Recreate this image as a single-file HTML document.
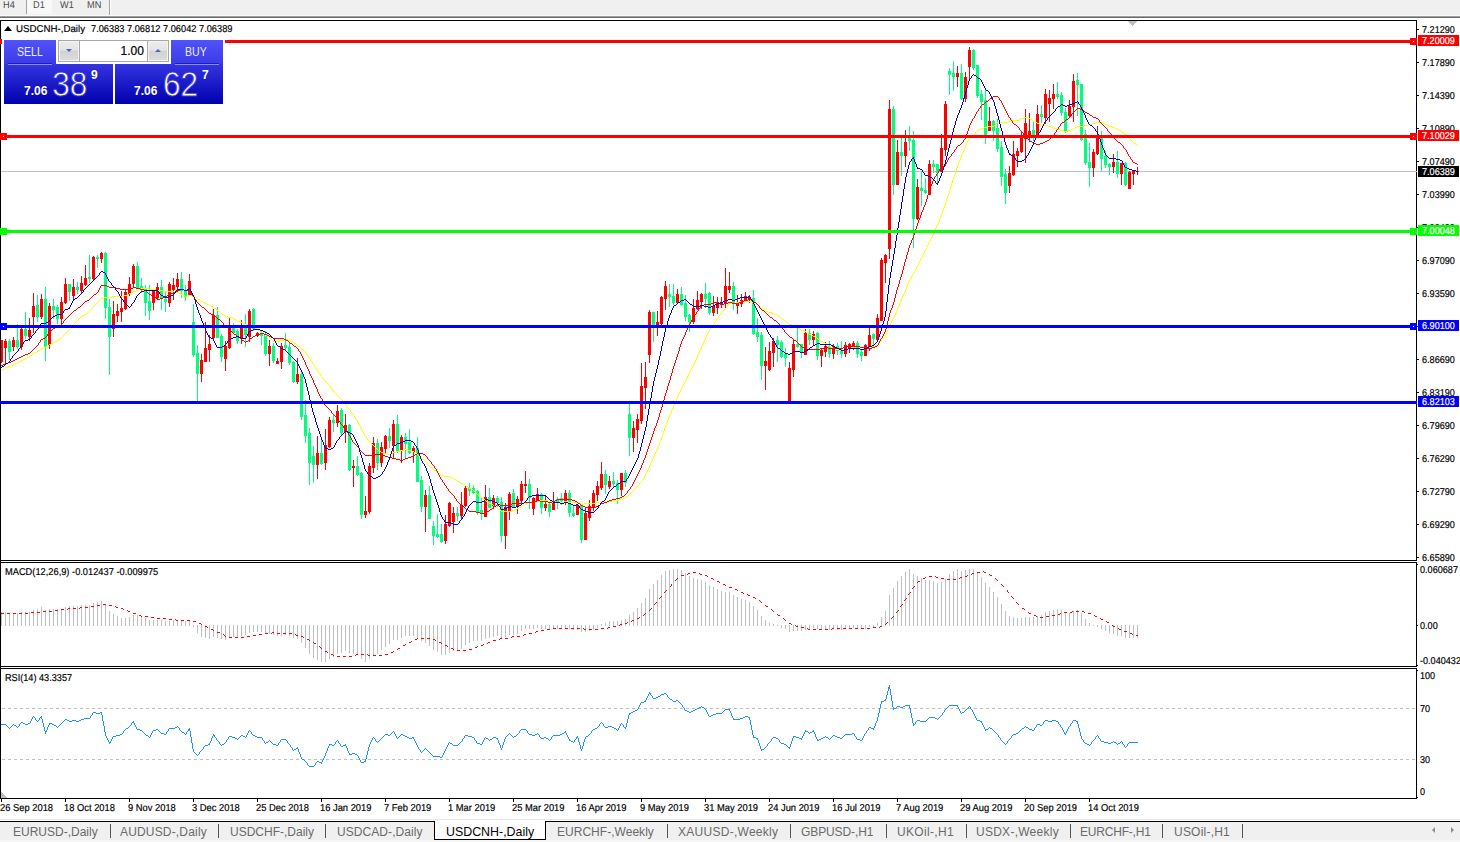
<!DOCTYPE html>
<html><head><meta charset="utf-8"><title>USDCNH-,Daily</title>
<style>
html,body{margin:0;padding:0;background:#fff;}
body{width:1460px;height:842px;position:relative;overflow:hidden;font-family:"Liberation Sans", sans-serif;}
.t{position:absolute;white-space:nowrap;font-family:"Liberation Sans", sans-serif;}
.ax,.dt,.ttl{-webkit-text-stroke:0.18px currentColor;}
.big{transform-origin:0 0;transform:scaleX(0.89);}
.ax{transform-origin:0 0;transform:scaleX(0.91) rotate(0.03deg);}
.tb{transform-origin:0 0;transform:scaleX(0.92) rotate(0.03deg);}
.dt{transform-origin:0 0;transform:scaleX(0.935) rotate(0.03deg);}
.ttl{transform-origin:0 0;transform:scaleX(0.945) rotate(0.03deg);}
</style></head><body>
<svg width="1460" height="842" viewBox="0 0 1460 842" shape-rendering="crispEdges" style="position:absolute;left:0;top:0"><rect x="0" y="20" width="1417" height="1" fill="#000"/>
<rect x="1416" y="20" width="1" height="779" fill="#000"/>
<rect x="0" y="560" width="1417" height="1" fill="#000"/>
<rect x="0" y="561" width="1417" height="1" fill="#fff"/>
<rect x="0" y="562" width="1417" height="1" fill="#000"/>
<rect x="0" y="666" width="1417" height="1" fill="#000"/>
<rect x="0" y="667" width="1417" height="1" fill="#fff"/>
<rect x="0" y="668" width="1417" height="1" fill="#000"/>
<rect x="0" y="798" width="1417" height="1" fill="#000"/>
<rect x="1" y="171" width="1416" height="1" fill="#c0c0c0"/>
<line x1="2" y1="708.5" x2="1416" y2="708.5" stroke="#c0c0c0" stroke-dasharray="3 3"/>
<line x1="2" y1="759.5" x2="1416" y2="759.5" stroke="#c0c0c0" stroke-dasharray="3 3"/>
<polygon points="1127,21 1137,21 1132,26" fill="#c0c0c0"/>
<polygon points="1,792 1,798 7,798" fill="#c0c0c0"/>
<g><rect x="1" y="340" width="1" height="23" fill="#ff0000"/><rect x="0" y="340" width="3" height="22" fill="#ff0000"/><rect x="5" y="339" width="1" height="25" fill="#ff0000"/><rect x="4" y="341" width="3" height="7" fill="#ff0000"/><rect x="9" y="339" width="1" height="21" fill="#00ff7f"/><rect x="8" y="341" width="3" height="11" fill="#00ff7f"/><rect x="13" y="337" width="1" height="14" fill="#ff0000"/><rect x="12" y="340" width="3" height="7" fill="#ff0000"/><rect x="17" y="324" width="1" height="25" fill="#00ff7f"/><rect x="16" y="340" width="3" height="7" fill="#00ff7f"/><rect x="21" y="328" width="1" height="22" fill="#ff0000"/><rect x="20" y="329" width="3" height="18" fill="#ff0000"/><rect x="25" y="312" width="1" height="27" fill="#00ff7f"/><rect x="24" y="329" width="3" height="7" fill="#00ff7f"/><rect x="29" y="318" width="1" height="23" fill="#ff0000"/><rect x="28" y="330" width="3" height="7" fill="#ff0000"/><rect x="33" y="293" width="1" height="40" fill="#ff0000"/><rect x="32" y="306" width="3" height="11" fill="#ff0000"/><rect x="37" y="295" width="1" height="27" fill="#00ff7f"/><rect x="36" y="305" width="3" height="12" fill="#00ff7f"/><rect x="41" y="294" width="1" height="25" fill="#ff0000"/><rect x="40" y="299" width="3" height="18" fill="#ff0000"/><rect x="45" y="287" width="1" height="74" fill="#00ff7f"/><rect x="44" y="299" width="3" height="48" fill="#00ff7f"/><rect x="49" y="303" width="1" height="46" fill="#ff0000"/><rect x="48" y="306" width="3" height="39" fill="#ff0000"/><rect x="53" y="299" width="1" height="20" fill="#00ff7f"/><rect x="52" y="306" width="3" height="4" fill="#00ff7f"/><rect x="57" y="305" width="1" height="19" fill="#00ff7f"/><rect x="56" y="307" width="3" height="12" fill="#00ff7f"/><rect x="61" y="297" width="1" height="27" fill="#ff0000"/><rect x="60" y="302" width="3" height="17" fill="#ff0000"/><rect x="65" y="278" width="1" height="26" fill="#ff0000"/><rect x="64" y="284" width="3" height="19" fill="#ff0000"/><rect x="69" y="284" width="1" height="17" fill="#00ff7f"/><rect x="68" y="284" width="3" height="8" fill="#00ff7f"/><rect x="73" y="279" width="1" height="21" fill="#ff0000"/><rect x="72" y="287" width="3" height="9" fill="#ff0000"/><rect x="77" y="282" width="1" height="12" fill="#00ff7f"/><rect x="76" y="287" width="3" height="3" fill="#00ff7f"/><rect x="81" y="276" width="1" height="17" fill="#ff0000"/><rect x="80" y="283" width="3" height="8" fill="#ff0000"/><rect x="85" y="265" width="1" height="21" fill="#ff0000"/><rect x="84" y="278" width="3" height="7" fill="#ff0000"/><rect x="89" y="255" width="1" height="28" fill="#00ff7f"/><rect x="88" y="277" width="3" height="2" fill="#00ff7f"/><rect x="93" y="256" width="1" height="25" fill="#ff0000"/><rect x="92" y="257" width="3" height="22" fill="#ff0000"/><rect x="97" y="255" width="1" height="13" fill="#00ff7f"/><rect x="96" y="257" width="3" height="2" fill="#00ff7f"/><rect x="101" y="252" width="1" height="11" fill="#ff0000"/><rect x="100" y="253" width="3" height="6" fill="#ff0000"/><rect x="105" y="252" width="1" height="67" fill="#00ff7f"/><rect x="104" y="253" width="3" height="55" fill="#00ff7f"/><rect x="109" y="299" width="1" height="76" fill="#00ff7f"/><rect x="108" y="307" width="3" height="30" fill="#00ff7f"/><rect x="113" y="301" width="1" height="36" fill="#ff0000"/><rect x="112" y="314" width="3" height="15" fill="#ff0000"/><rect x="117" y="304" width="1" height="18" fill="#ff0000"/><rect x="116" y="311" width="3" height="5" fill="#ff0000"/><rect x="121" y="291" width="1" height="31" fill="#ff0000"/><rect x="120" y="308" width="3" height="4" fill="#ff0000"/><rect x="125" y="290" width="1" height="20" fill="#ff0000"/><rect x="124" y="292" width="3" height="17" fill="#ff0000"/><rect x="129" y="277" width="1" height="19" fill="#ff0000"/><rect x="128" y="284" width="3" height="10" fill="#ff0000"/><rect x="133" y="264" width="1" height="24" fill="#ff0000"/><rect x="132" y="266" width="3" height="18" fill="#ff0000"/><rect x="137" y="262" width="1" height="27" fill="#00ff7f"/><rect x="136" y="266" width="3" height="22" fill="#00ff7f"/><rect x="141" y="278" width="1" height="15" fill="#00ff7f"/><rect x="140" y="286" width="3" height="4" fill="#00ff7f"/><rect x="145" y="285" width="1" height="31" fill="#00ff7f"/><rect x="144" y="289" width="3" height="14" fill="#00ff7f"/><rect x="149" y="285" width="1" height="35" fill="#00ff7f"/><rect x="148" y="301" width="3" height="10" fill="#00ff7f"/><rect x="153" y="289" width="1" height="21" fill="#ff0000"/><rect x="152" y="291" width="3" height="12" fill="#ff0000"/><rect x="157" y="283" width="1" height="17" fill="#ff0000"/><rect x="156" y="287" width="3" height="11" fill="#ff0000"/><rect x="161" y="280" width="1" height="30" fill="#00ff7f"/><rect x="160" y="287" width="3" height="12" fill="#00ff7f"/><rect x="165" y="292" width="1" height="20" fill="#00ff7f"/><rect x="164" y="299" width="3" height="3" fill="#00ff7f"/><rect x="169" y="282" width="1" height="25" fill="#ff0000"/><rect x="168" y="284" width="3" height="19" fill="#ff0000"/><rect x="173" y="278" width="1" height="22" fill="#ff0000"/><rect x="172" y="285" width="3" height="5" fill="#ff0000"/><rect x="177" y="273" width="1" height="19" fill="#ff0000"/><rect x="176" y="279" width="3" height="8" fill="#ff0000"/><rect x="181" y="272" width="1" height="26" fill="#00ff7f"/><rect x="180" y="279" width="3" height="12" fill="#00ff7f"/><rect x="185" y="285" width="1" height="16" fill="#00ff7f"/><rect x="184" y="291" width="3" height="6" fill="#00ff7f"/><rect x="189" y="274" width="1" height="22" fill="#ff0000"/><rect x="188" y="281" width="3" height="15" fill="#ff0000"/><rect x="193" y="304" width="1" height="53" fill="#00ff7f"/><rect x="192" y="322" width="3" height="33" fill="#00ff7f"/><rect x="197" y="345" width="1" height="56" fill="#00ff7f"/><rect x="196" y="353" width="3" height="21" fill="#00ff7f"/><rect x="201" y="354" width="1" height="28" fill="#ff0000"/><rect x="200" y="360" width="3" height="14" fill="#ff0000"/><rect x="205" y="322" width="1" height="40" fill="#ff0000"/><rect x="204" y="348" width="3" height="14" fill="#ff0000"/><rect x="209" y="335" width="1" height="27" fill="#ff0000"/><rect x="208" y="344" width="3" height="6" fill="#ff0000"/><rect x="213" y="309" width="1" height="31" fill="#ff0000"/><rect x="212" y="315" width="3" height="23" fill="#ff0000"/><rect x="217" y="307" width="1" height="31" fill="#00ff7f"/><rect x="216" y="315" width="3" height="23" fill="#00ff7f"/><rect x="221" y="334" width="1" height="28" fill="#00ff7f"/><rect x="220" y="336" width="3" height="21" fill="#00ff7f"/><rect x="225" y="341" width="1" height="30" fill="#ff0000"/><rect x="224" y="346" width="3" height="13" fill="#ff0000"/><rect x="229" y="318" width="1" height="31" fill="#ff0000"/><rect x="228" y="327" width="3" height="21" fill="#ff0000"/><rect x="233" y="323" width="1" height="11" fill="#00ff7f"/><rect x="232" y="327" width="3" height="6" fill="#00ff7f"/><rect x="237" y="329" width="1" height="15" fill="#00ff7f"/><rect x="236" y="331" width="3" height="10" fill="#00ff7f"/><rect x="241" y="320" width="1" height="24" fill="#ff0000"/><rect x="240" y="327" width="3" height="12" fill="#ff0000"/><rect x="245" y="314" width="1" height="33" fill="#00ff7f"/><rect x="244" y="326" width="3" height="9" fill="#00ff7f"/><rect x="249" y="309" width="1" height="33" fill="#ff0000"/><rect x="248" y="311" width="3" height="26" fill="#ff0000"/><rect x="253" y="308" width="1" height="23" fill="#00ff7f"/><rect x="252" y="309" width="3" height="20" fill="#00ff7f"/><rect x="257" y="332" width="1" height="5" fill="#ff0000"/><rect x="256" y="333" width="3" height="3" fill="#ff0000"/><rect x="261" y="330" width="1" height="15" fill="#00ff7f"/><rect x="260" y="333" width="3" height="3" fill="#00ff7f"/><rect x="265" y="331" width="1" height="25" fill="#00ff7f"/><rect x="264" y="334" width="3" height="20" fill="#00ff7f"/><rect x="269" y="340" width="1" height="26" fill="#ff0000"/><rect x="268" y="346" width="3" height="8" fill="#ff0000"/><rect x="273" y="343" width="1" height="20" fill="#00ff7f"/><rect x="272" y="346" width="3" height="15" fill="#00ff7f"/><rect x="277" y="358" width="1" height="6" fill="#ff0000"/><rect x="276" y="361" width="3" height="3" fill="#ff0000"/><rect x="281" y="343" width="1" height="26" fill="#ff0000"/><rect x="280" y="346" width="3" height="16" fill="#ff0000"/><rect x="285" y="333" width="1" height="17" fill="#00ff7f"/><rect x="284" y="345" width="3" height="3" fill="#00ff7f"/><rect x="289" y="343" width="1" height="22" fill="#00ff7f"/><rect x="288" y="347" width="3" height="16" fill="#00ff7f"/><rect x="293" y="361" width="1" height="22" fill="#00ff7f"/><rect x="292" y="362" width="3" height="20" fill="#00ff7f"/><rect x="297" y="358" width="1" height="26" fill="#ff0000"/><rect x="296" y="374" width="3" height="8" fill="#ff0000"/><rect x="301" y="372" width="1" height="48" fill="#00ff7f"/><rect x="300" y="374" width="3" height="43" fill="#00ff7f"/><rect x="305" y="400" width="1" height="43" fill="#00ff7f"/><rect x="304" y="415" width="3" height="21" fill="#00ff7f"/><rect x="309" y="428" width="1" height="57" fill="#00ff7f"/><rect x="308" y="433" width="3" height="30" fill="#00ff7f"/><rect x="313" y="446" width="1" height="37" fill="#00ff7f"/><rect x="312" y="456" width="3" height="9" fill="#00ff7f"/><rect x="317" y="436" width="1" height="43" fill="#ff0000"/><rect x="316" y="453" width="3" height="12" fill="#ff0000"/><rect x="321" y="439" width="1" height="26" fill="#00ff7f"/><rect x="320" y="453" width="3" height="11" fill="#00ff7f"/><rect x="325" y="429" width="1" height="41" fill="#ff0000"/><rect x="324" y="445" width="3" height="18" fill="#ff0000"/><rect x="329" y="417" width="1" height="31" fill="#ff0000"/><rect x="328" y="420" width="3" height="27" fill="#ff0000"/><rect x="333" y="415" width="1" height="17" fill="#00ff7f"/><rect x="332" y="420" width="3" height="3" fill="#00ff7f"/><rect x="337" y="405" width="1" height="22" fill="#ff0000"/><rect x="336" y="411" width="3" height="12" fill="#ff0000"/><rect x="341" y="408" width="1" height="27" fill="#00ff7f"/><rect x="340" y="410" width="3" height="23" fill="#00ff7f"/><rect x="345" y="414" width="1" height="29" fill="#ff0000"/><rect x="344" y="425" width="3" height="7" fill="#ff0000"/><rect x="349" y="424" width="1" height="47" fill="#00ff7f"/><rect x="348" y="425" width="3" height="45" fill="#00ff7f"/><rect x="353" y="460" width="1" height="27" fill="#ff0000"/><rect x="352" y="466" width="3" height="2" fill="#ff0000"/><rect x="357" y="456" width="1" height="20" fill="#00ff7f"/><rect x="356" y="466" width="3" height="9" fill="#00ff7f"/><rect x="361" y="472" width="1" height="47" fill="#00ff7f"/><rect x="360" y="473" width="3" height="42" fill="#00ff7f"/><rect x="365" y="496" width="1" height="22" fill="#ff0000"/><rect x="364" y="511" width="3" height="4" fill="#ff0000"/><rect x="369" y="463" width="1" height="51" fill="#ff0000"/><rect x="368" y="466" width="3" height="46" fill="#ff0000"/><rect x="373" y="437" width="1" height="36" fill="#ff0000"/><rect x="372" y="443" width="3" height="25" fill="#ff0000"/><rect x="377" y="439" width="1" height="31" fill="#00ff7f"/><rect x="376" y="443" width="3" height="20" fill="#00ff7f"/><rect x="381" y="442" width="1" height="25" fill="#ff0000"/><rect x="380" y="447" width="3" height="16" fill="#ff0000"/><rect x="385" y="435" width="1" height="19" fill="#ff0000"/><rect x="384" y="436" width="3" height="13" fill="#ff0000"/><rect x="389" y="428" width="1" height="20" fill="#00ff7f"/><rect x="388" y="436" width="3" height="5" fill="#00ff7f"/><rect x="393" y="420" width="1" height="39" fill="#ff0000"/><rect x="392" y="424" width="3" height="22" fill="#ff0000"/><rect x="397" y="415" width="1" height="38" fill="#00ff7f"/><rect x="396" y="424" width="3" height="28" fill="#00ff7f"/><rect x="401" y="435" width="1" height="28" fill="#ff0000"/><rect x="400" y="437" width="3" height="14" fill="#ff0000"/><rect x="405" y="433" width="1" height="26" fill="#00ff7f"/><rect x="404" y="437" width="3" height="7" fill="#00ff7f"/><rect x="409" y="429" width="1" height="25" fill="#00ff7f"/><rect x="408" y="442" width="3" height="11" fill="#00ff7f"/><rect x="413" y="446" width="1" height="17" fill="#ff0000"/><rect x="412" y="448" width="3" height="4" fill="#ff0000"/><rect x="417" y="437" width="1" height="45" fill="#00ff7f"/><rect x="416" y="448" width="3" height="34" fill="#00ff7f"/><rect x="421" y="476" width="1" height="36" fill="#00ff7f"/><rect x="420" y="480" width="3" height="27" fill="#00ff7f"/><rect x="425" y="490" width="1" height="42" fill="#ff0000"/><rect x="424" y="495" width="3" height="12" fill="#ff0000"/><rect x="429" y="486" width="1" height="33" fill="#00ff7f"/><rect x="428" y="495" width="3" height="24" fill="#00ff7f"/><rect x="433" y="521" width="1" height="24" fill="#00ff7f"/><rect x="432" y="526" width="3" height="10" fill="#00ff7f"/><rect x="437" y="514" width="1" height="24" fill="#00ff7f"/><rect x="436" y="534" width="3" height="3" fill="#00ff7f"/><rect x="441" y="524" width="1" height="19" fill="#00ff7f"/><rect x="440" y="534" width="3" height="8" fill="#00ff7f"/><rect x="445" y="515" width="1" height="29" fill="#ff0000"/><rect x="444" y="524" width="3" height="17" fill="#ff0000"/><rect x="449" y="502" width="1" height="25" fill="#ff0000"/><rect x="448" y="503" width="3" height="23" fill="#ff0000"/><rect x="453" y="507" width="1" height="26" fill="#ff0000"/><rect x="452" y="513" width="3" height="9" fill="#ff0000"/><rect x="457" y="507" width="1" height="14" fill="#00ff7f"/><rect x="456" y="513" width="3" height="3" fill="#00ff7f"/><rect x="461" y="492" width="1" height="27" fill="#ff0000"/><rect x="460" y="505" width="3" height="11" fill="#ff0000"/><rect x="465" y="486" width="1" height="21" fill="#ff0000"/><rect x="464" y="488" width="3" height="18" fill="#ff0000"/><rect x="469" y="483" width="1" height="13" fill="#00ff7f"/><rect x="468" y="488" width="3" height="3" fill="#00ff7f"/><rect x="473" y="485" width="1" height="9" fill="#00ff7f"/><rect x="472" y="488" width="3" height="5" fill="#00ff7f"/><rect x="477" y="490" width="1" height="25" fill="#00ff7f"/><rect x="476" y="491" width="3" height="21" fill="#00ff7f"/><rect x="481" y="498" width="1" height="22" fill="#00ff7f"/><rect x="480" y="510" width="3" height="4" fill="#00ff7f"/><rect x="485" y="485" width="1" height="32" fill="#ff0000"/><rect x="484" y="497" width="3" height="20" fill="#ff0000"/><rect x="489" y="488" width="1" height="20" fill="#00ff7f"/><rect x="488" y="497" width="3" height="11" fill="#00ff7f"/><rect x="493" y="495" width="1" height="14" fill="#ff0000"/><rect x="492" y="498" width="3" height="8" fill="#ff0000"/><rect x="497" y="496" width="1" height="11" fill="#00ff7f"/><rect x="496" y="498" width="3" height="5" fill="#00ff7f"/><rect x="501" y="497" width="1" height="45" fill="#00ff7f"/><rect x="500" y="502" width="3" height="34" fill="#00ff7f"/><rect x="505" y="503" width="1" height="46" fill="#ff0000"/><rect x="504" y="507" width="3" height="29" fill="#ff0000"/><rect x="509" y="492" width="1" height="28" fill="#ff0000"/><rect x="508" y="494" width="3" height="17" fill="#ff0000"/><rect x="513" y="489" width="1" height="19" fill="#00ff7f"/><rect x="512" y="493" width="3" height="14" fill="#00ff7f"/><rect x="517" y="496" width="1" height="18" fill="#ff0000"/><rect x="516" y="499" width="3" height="8" fill="#ff0000"/><rect x="521" y="481" width="1" height="24" fill="#ff0000"/><rect x="520" y="484" width="3" height="17" fill="#ff0000"/><rect x="525" y="471" width="1" height="22" fill="#ff0000"/><rect x="524" y="484" width="3" height="2" fill="#ff0000"/><rect x="529" y="479" width="1" height="30" fill="#00ff7f"/><rect x="528" y="484" width="3" height="14" fill="#00ff7f"/><rect x="533" y="497" width="1" height="18" fill="#ff0000"/><rect x="532" y="498" width="3" height="11" fill="#ff0000"/><rect x="537" y="488" width="1" height="14" fill="#ff0000"/><rect x="536" y="494" width="3" height="8" fill="#ff0000"/><rect x="541" y="493" width="1" height="21" fill="#00ff7f"/><rect x="540" y="494" width="3" height="14" fill="#00ff7f"/><rect x="545" y="496" width="1" height="15" fill="#ff0000"/><rect x="544" y="504" width="3" height="4" fill="#ff0000"/><rect x="549" y="503" width="1" height="14" fill="#00ff7f"/><rect x="548" y="504" width="3" height="8" fill="#00ff7f"/><rect x="553" y="492" width="1" height="18" fill="#ff0000"/><rect x="552" y="501" width="3" height="9" fill="#ff0000"/><rect x="557" y="497" width="1" height="12" fill="#00ff7f"/><rect x="556" y="499" width="3" height="3" fill="#00ff7f"/><rect x="561" y="493" width="1" height="12" fill="#00ff7f"/><rect x="560" y="498" width="3" height="3" fill="#00ff7f"/><rect x="565" y="490" width="1" height="15" fill="#ff0000"/><rect x="564" y="493" width="3" height="9" fill="#ff0000"/><rect x="569" y="490" width="1" height="27" fill="#00ff7f"/><rect x="568" y="493" width="3" height="20" fill="#00ff7f"/><rect x="573" y="506" width="1" height="11" fill="#00ff7f"/><rect x="572" y="513" width="3" height="3" fill="#00ff7f"/><rect x="577" y="504" width="1" height="11" fill="#ff0000"/><rect x="576" y="505" width="3" height="10" fill="#ff0000"/><rect x="581" y="504" width="1" height="39" fill="#00ff7f"/><rect x="580" y="505" width="3" height="35" fill="#00ff7f"/><rect x="585" y="508" width="1" height="32" fill="#ff0000"/><rect x="584" y="513" width="3" height="27" fill="#ff0000"/><rect x="589" y="500" width="1" height="21" fill="#ff0000"/><rect x="588" y="506" width="3" height="12" fill="#ff0000"/><rect x="593" y="490" width="1" height="21" fill="#ff0000"/><rect x="592" y="493" width="3" height="15" fill="#ff0000"/><rect x="597" y="481" width="1" height="20" fill="#ff0000"/><rect x="596" y="486" width="3" height="9" fill="#ff0000"/><rect x="601" y="462" width="1" height="28" fill="#ff0000"/><rect x="600" y="474" width="3" height="14" fill="#ff0000"/><rect x="605" y="470" width="1" height="24" fill="#00ff7f"/><rect x="604" y="474" width="3" height="11" fill="#00ff7f"/><rect x="609" y="476" width="1" height="13" fill="#ff0000"/><rect x="608" y="481" width="3" height="6" fill="#ff0000"/><rect x="613" y="472" width="1" height="16" fill="#00ff7f"/><rect x="612" y="481" width="3" height="3" fill="#00ff7f"/><rect x="617" y="480" width="1" height="24" fill="#00ff7f"/><rect x="616" y="483" width="3" height="7" fill="#00ff7f"/><rect x="621" y="473" width="1" height="23" fill="#ff0000"/><rect x="620" y="473" width="3" height="17" fill="#ff0000"/><rect x="625" y="470" width="1" height="17" fill="#00ff7f"/><rect x="624" y="473" width="3" height="10" fill="#00ff7f"/><rect x="629" y="401" width="1" height="55" fill="#00ff7f"/><rect x="628" y="414" width="3" height="24" fill="#00ff7f"/><rect x="633" y="421" width="1" height="31" fill="#ff0000"/><rect x="632" y="428" width="3" height="10" fill="#ff0000"/><rect x="637" y="414" width="1" height="29" fill="#ff0000"/><rect x="636" y="419" width="3" height="11" fill="#ff0000"/><rect x="641" y="363" width="1" height="61" fill="#ff0000"/><rect x="640" y="386" width="3" height="35" fill="#ff0000"/><rect x="645" y="362" width="1" height="47" fill="#ff0000"/><rect x="644" y="377" width="3" height="11" fill="#ff0000"/><rect x="649" y="310" width="1" height="53" fill="#ff0000"/><rect x="648" y="312" width="3" height="43" fill="#ff0000"/><rect x="653" y="312" width="1" height="30" fill="#00ff7f"/><rect x="652" y="312" width="3" height="13" fill="#00ff7f"/><rect x="657" y="311" width="1" height="25" fill="#ff0000"/><rect x="656" y="322" width="3" height="3" fill="#ff0000"/><rect x="661" y="296" width="1" height="29" fill="#ff0000"/><rect x="660" y="297" width="3" height="27" fill="#ff0000"/><rect x="665" y="281" width="1" height="29" fill="#ff0000"/><rect x="664" y="286" width="3" height="13" fill="#ff0000"/><rect x="669" y="284" width="1" height="23" fill="#00ff7f"/><rect x="668" y="294" width="3" height="3" fill="#00ff7f"/><rect x="673" y="284" width="1" height="21" fill="#00ff7f"/><rect x="672" y="296" width="3" height="7" fill="#00ff7f"/><rect x="677" y="289" width="1" height="15" fill="#ff0000"/><rect x="676" y="294" width="3" height="9" fill="#ff0000"/><rect x="681" y="287" width="1" height="19" fill="#00ff7f"/><rect x="680" y="294" width="3" height="11" fill="#00ff7f"/><rect x="685" y="295" width="1" height="26" fill="#00ff7f"/><rect x="684" y="303" width="3" height="14" fill="#00ff7f"/><rect x="689" y="314" width="1" height="18" fill="#00ff7f"/><rect x="688" y="315" width="3" height="7" fill="#00ff7f"/><rect x="693" y="299" width="1" height="25" fill="#ff0000"/><rect x="692" y="308" width="3" height="14" fill="#ff0000"/><rect x="697" y="291" width="1" height="19" fill="#ff0000"/><rect x="696" y="300" width="3" height="9" fill="#ff0000"/><rect x="701" y="293" width="1" height="16" fill="#ff0000"/><rect x="700" y="294" width="3" height="8" fill="#ff0000"/><rect x="705" y="283" width="1" height="25" fill="#00ff7f"/><rect x="704" y="294" width="3" height="5" fill="#00ff7f"/><rect x="709" y="292" width="1" height="23" fill="#00ff7f"/><rect x="708" y="293" width="3" height="20" fill="#00ff7f"/><rect x="713" y="296" width="1" height="20" fill="#ff0000"/><rect x="712" y="306" width="3" height="7" fill="#ff0000"/><rect x="717" y="297" width="1" height="17" fill="#ff0000"/><rect x="716" y="302" width="3" height="6" fill="#ff0000"/><rect x="721" y="297" width="1" height="11" fill="#ff0000"/><rect x="720" y="302" width="3" height="2" fill="#ff0000"/><rect x="725" y="268" width="1" height="40" fill="#ff0000"/><rect x="724" y="286" width="3" height="18" fill="#ff0000"/><rect x="729" y="272" width="1" height="21" fill="#ff0000"/><rect x="728" y="286" width="3" height="4" fill="#ff0000"/><rect x="733" y="282" width="1" height="28" fill="#00ff7f"/><rect x="732" y="286" width="3" height="18" fill="#00ff7f"/><rect x="737" y="295" width="1" height="19" fill="#ff0000"/><rect x="736" y="302" width="3" height="4" fill="#ff0000"/><rect x="741" y="294" width="1" height="13" fill="#ff0000"/><rect x="740" y="300" width="3" height="4" fill="#ff0000"/><rect x="745" y="292" width="1" height="10" fill="#ff0000"/><rect x="744" y="296" width="3" height="5" fill="#ff0000"/><rect x="749" y="295" width="1" height="8" fill="#ff0000"/><rect x="748" y="297" width="3" height="3" fill="#ff0000"/><rect x="753" y="290" width="1" height="45" fill="#00ff7f"/><rect x="752" y="298" width="3" height="36" fill="#00ff7f"/><rect x="757" y="318" width="1" height="24" fill="#00ff7f"/><rect x="756" y="332" width="3" height="5" fill="#00ff7f"/><rect x="761" y="332" width="1" height="48" fill="#00ff7f"/><rect x="760" y="335" width="3" height="31" fill="#00ff7f"/><rect x="765" y="347" width="1" height="43" fill="#ff0000"/><rect x="764" y="361" width="3" height="5" fill="#ff0000"/><rect x="769" y="342" width="1" height="29" fill="#ff0000"/><rect x="768" y="351" width="3" height="19" fill="#ff0000"/><rect x="773" y="338" width="1" height="29" fill="#ff0000"/><rect x="772" y="341" width="3" height="12" fill="#ff0000"/><rect x="777" y="336" width="1" height="26" fill="#00ff7f"/><rect x="776" y="340" width="3" height="5" fill="#00ff7f"/><rect x="781" y="340" width="1" height="18" fill="#00ff7f"/><rect x="780" y="342" width="3" height="15" fill="#00ff7f"/><rect x="785" y="348" width="1" height="19" fill="#00ff7f"/><rect x="784" y="354" width="3" height="4" fill="#00ff7f"/><rect x="789" y="362" width="1" height="42" fill="#ff0000"/><rect x="788" y="368" width="3" height="34" fill="#ff0000"/><rect x="793" y="340" width="1" height="37" fill="#ff0000"/><rect x="792" y="344" width="3" height="26" fill="#ff0000"/><rect x="797" y="328" width="1" height="20" fill="#00ff7f"/><rect x="796" y="344" width="3" height="3" fill="#00ff7f"/><rect x="801" y="344" width="1" height="14" fill="#00ff7f"/><rect x="800" y="344" width="3" height="9" fill="#00ff7f"/><rect x="805" y="329" width="1" height="26" fill="#ff0000"/><rect x="804" y="333" width="3" height="22" fill="#ff0000"/><rect x="809" y="329" width="1" height="16" fill="#00ff7f"/><rect x="808" y="333" width="3" height="7" fill="#00ff7f"/><rect x="813" y="331" width="1" height="15" fill="#ff0000"/><rect x="812" y="334" width="3" height="6" fill="#ff0000"/><rect x="817" y="332" width="1" height="28" fill="#00ff7f"/><rect x="816" y="333" width="3" height="23" fill="#00ff7f"/><rect x="821" y="349" width="1" height="18" fill="#ff0000"/><rect x="820" y="350" width="3" height="6" fill="#ff0000"/><rect x="825" y="342" width="1" height="15" fill="#ff0000"/><rect x="824" y="346" width="3" height="6" fill="#ff0000"/><rect x="829" y="341" width="1" height="17" fill="#00ff7f"/><rect x="828" y="346" width="3" height="8" fill="#00ff7f"/><rect x="833" y="344" width="1" height="15" fill="#ff0000"/><rect x="832" y="346" width="3" height="8" fill="#ff0000"/><rect x="837" y="343" width="1" height="12" fill="#00ff7f"/><rect x="836" y="346" width="3" height="5" fill="#00ff7f"/><rect x="841" y="341" width="1" height="17" fill="#00ff7f"/><rect x="840" y="350" width="3" height="4" fill="#00ff7f"/><rect x="845" y="342" width="1" height="15" fill="#ff0000"/><rect x="844" y="345" width="3" height="9" fill="#ff0000"/><rect x="849" y="343" width="1" height="10" fill="#ff0000"/><rect x="848" y="344" width="3" height="5" fill="#ff0000"/><rect x="853" y="341" width="1" height="9" fill="#ff0000"/><rect x="852" y="343" width="3" height="4" fill="#ff0000"/><rect x="857" y="341" width="1" height="17" fill="#00ff7f"/><rect x="856" y="343" width="3" height="11" fill="#00ff7f"/><rect x="861" y="350" width="1" height="11" fill="#00ff7f"/><rect x="860" y="352" width="3" height="4" fill="#00ff7f"/><rect x="865" y="344" width="1" height="12" fill="#ff0000"/><rect x="864" y="345" width="3" height="11" fill="#ff0000"/><rect x="869" y="328" width="1" height="23" fill="#ff0000"/><rect x="868" y="335" width="3" height="12" fill="#ff0000"/><rect x="873" y="333" width="1" height="12" fill="#00ff7f"/><rect x="872" y="334" width="3" height="5" fill="#00ff7f"/><rect x="877" y="314" width="1" height="27" fill="#ff0000"/><rect x="876" y="318" width="3" height="22" fill="#ff0000"/><rect x="881" y="258" width="1" height="63" fill="#ff0000"/><rect x="880" y="260" width="3" height="61" fill="#ff0000"/><rect x="885" y="254" width="1" height="29" fill="#ff0000"/><rect x="884" y="255" width="3" height="8" fill="#ff0000"/><rect x="889" y="100" width="1" height="159" fill="#ff0000"/><rect x="888" y="109" width="3" height="140" fill="#ff0000"/><rect x="893" y="106" width="1" height="89" fill="#00ff7f"/><rect x="892" y="109" width="3" height="76" fill="#00ff7f"/><rect x="897" y="140" width="1" height="45" fill="#ff0000"/><rect x="896" y="152" width="3" height="33" fill="#ff0000"/><rect x="901" y="138" width="1" height="38" fill="#00ff7f"/><rect x="900" y="152" width="3" height="4" fill="#00ff7f"/><rect x="905" y="130" width="1" height="37" fill="#ff0000"/><rect x="904" y="142" width="3" height="14" fill="#ff0000"/><rect x="909" y="126" width="1" height="25" fill="#00ff7f"/><rect x="908" y="138" width="3" height="3" fill="#00ff7f"/><rect x="913" y="131" width="1" height="117" fill="#00ff7f"/><rect x="912" y="140" width="3" height="79" fill="#00ff7f"/><rect x="917" y="179" width="1" height="41" fill="#ff0000"/><rect x="916" y="187" width="3" height="32" fill="#ff0000"/><rect x="921" y="171" width="1" height="35" fill="#00ff7f"/><rect x="920" y="188" width="3" height="3" fill="#00ff7f"/><rect x="925" y="178" width="1" height="16" fill="#00ff7f"/><rect x="924" y="190" width="3" height="3" fill="#00ff7f"/><rect x="929" y="160" width="1" height="35" fill="#ff0000"/><rect x="928" y="164" width="3" height="31" fill="#ff0000"/><rect x="933" y="160" width="1" height="13" fill="#00ff7f"/><rect x="932" y="164" width="3" height="3" fill="#00ff7f"/><rect x="937" y="164" width="1" height="19" fill="#00ff7f"/><rect x="936" y="164" width="3" height="9" fill="#00ff7f"/><rect x="941" y="134" width="1" height="38" fill="#ff0000"/><rect x="940" y="148" width="3" height="24" fill="#ff0000"/><rect x="945" y="101" width="1" height="55" fill="#ff0000"/><rect x="944" y="104" width="3" height="46" fill="#ff0000"/><rect x="949" y="68" width="1" height="27" fill="#00ff7f"/><rect x="948" y="71" width="3" height="4" fill="#00ff7f"/><rect x="953" y="61" width="1" height="30" fill="#00ff7f"/><rect x="952" y="73" width="3" height="4" fill="#00ff7f"/><rect x="957" y="66" width="1" height="21" fill="#ff0000"/><rect x="956" y="73" width="3" height="4" fill="#ff0000"/><rect x="961" y="64" width="1" height="36" fill="#00ff7f"/><rect x="960" y="73" width="3" height="26" fill="#00ff7f"/><rect x="965" y="72" width="1" height="30" fill="#ff0000"/><rect x="964" y="77" width="3" height="22" fill="#ff0000"/><rect x="969" y="47" width="1" height="32" fill="#ff0000"/><rect x="968" y="50" width="3" height="17" fill="#ff0000"/><rect x="973" y="49" width="1" height="21" fill="#00ff7f"/><rect x="972" y="50" width="3" height="18" fill="#00ff7f"/><rect x="977" y="65" width="1" height="33" fill="#00ff7f"/><rect x="976" y="65" width="3" height="31" fill="#00ff7f"/><rect x="981" y="90" width="1" height="30" fill="#00ff7f"/><rect x="980" y="94" width="3" height="8" fill="#00ff7f"/><rect x="985" y="90" width="1" height="54" fill="#00ff7f"/><rect x="984" y="100" width="3" height="36" fill="#00ff7f"/><rect x="989" y="107" width="1" height="24" fill="#ff0000"/><rect x="988" y="121" width="3" height="10" fill="#ff0000"/><rect x="993" y="120" width="1" height="21" fill="#00ff7f"/><rect x="992" y="121" width="3" height="10" fill="#00ff7f"/><rect x="997" y="119" width="1" height="33" fill="#00ff7f"/><rect x="996" y="128" width="3" height="21" fill="#00ff7f"/><rect x="1001" y="141" width="1" height="45" fill="#00ff7f"/><rect x="1000" y="147" width="3" height="30" fill="#00ff7f"/><rect x="1005" y="169" width="1" height="35" fill="#00ff7f"/><rect x="1004" y="174" width="3" height="19" fill="#00ff7f"/><rect x="1009" y="166" width="1" height="27" fill="#ff0000"/><rect x="1008" y="173" width="3" height="13" fill="#ff0000"/><rect x="1013" y="141" width="1" height="35" fill="#ff0000"/><rect x="1012" y="154" width="3" height="21" fill="#ff0000"/><rect x="1017" y="148" width="1" height="19" fill="#ff0000"/><rect x="1016" y="151" width="3" height="5" fill="#ff0000"/><rect x="1021" y="132" width="1" height="21" fill="#ff0000"/><rect x="1020" y="136" width="3" height="16" fill="#ff0000"/><rect x="1025" y="109" width="1" height="54" fill="#ff0000"/><rect x="1024" y="123" width="3" height="16" fill="#ff0000"/><rect x="1029" y="113" width="1" height="29" fill="#ff0000"/><rect x="1028" y="131" width="3" height="7" fill="#ff0000"/><rect x="1033" y="122" width="1" height="19" fill="#00ff7f"/><rect x="1032" y="130" width="3" height="5" fill="#00ff7f"/><rect x="1037" y="105" width="1" height="31" fill="#ff0000"/><rect x="1036" y="114" width="3" height="21" fill="#ff0000"/><rect x="1041" y="105" width="1" height="18" fill="#00ff7f"/><rect x="1040" y="114" width="3" height="3" fill="#00ff7f"/><rect x="1045" y="89" width="1" height="35" fill="#ff0000"/><rect x="1044" y="94" width="3" height="24" fill="#ff0000"/><rect x="1049" y="90" width="1" height="32" fill="#ff0000"/><rect x="1048" y="98" width="3" height="6" fill="#ff0000"/><rect x="1053" y="84" width="1" height="25" fill="#ff0000"/><rect x="1052" y="94" width="3" height="5" fill="#ff0000"/><rect x="1057" y="82" width="1" height="17" fill="#00ff7f"/><rect x="1056" y="94" width="3" height="3" fill="#00ff7f"/><rect x="1061" y="92" width="1" height="24" fill="#00ff7f"/><rect x="1060" y="95" width="3" height="18" fill="#00ff7f"/><rect x="1065" y="108" width="1" height="25" fill="#00ff7f"/><rect x="1064" y="112" width="3" height="20" fill="#00ff7f"/><rect x="1069" y="100" width="1" height="17" fill="#ff0000"/><rect x="1068" y="106" width="3" height="10" fill="#ff0000"/><rect x="1073" y="74" width="1" height="48" fill="#ff0000"/><rect x="1072" y="81" width="3" height="26" fill="#ff0000"/><rect x="1077" y="73" width="1" height="43" fill="#00ff7f"/><rect x="1076" y="80" width="3" height="5" fill="#00ff7f"/><rect x="1081" y="84" width="1" height="57" fill="#00ff7f"/><rect x="1080" y="84" width="3" height="56" fill="#00ff7f"/><rect x="1085" y="130" width="1" height="35" fill="#00ff7f"/><rect x="1084" y="134" width="3" height="29" fill="#00ff7f"/><rect x="1089" y="143" width="1" height="44" fill="#00ff7f"/><rect x="1088" y="162" width="3" height="6" fill="#00ff7f"/><rect x="1093" y="149" width="1" height="28" fill="#ff0000"/><rect x="1092" y="152" width="3" height="16" fill="#ff0000"/><rect x="1097" y="126" width="1" height="29" fill="#ff0000"/><rect x="1096" y="137" width="3" height="17" fill="#ff0000"/><rect x="1101" y="131" width="1" height="40" fill="#00ff7f"/><rect x="1100" y="138" width="3" height="21" fill="#00ff7f"/><rect x="1105" y="151" width="1" height="17" fill="#00ff7f"/><rect x="1104" y="156" width="3" height="9" fill="#00ff7f"/><rect x="1109" y="163" width="1" height="12" fill="#00ff7f"/><rect x="1108" y="164" width="3" height="3" fill="#00ff7f"/><rect x="1113" y="154" width="1" height="19" fill="#ff0000"/><rect x="1112" y="162" width="3" height="5" fill="#ff0000"/><rect x="1117" y="151" width="1" height="27" fill="#00ff7f"/><rect x="1116" y="162" width="3" height="12" fill="#00ff7f"/><rect x="1121" y="163" width="1" height="22" fill="#ff0000"/><rect x="1120" y="163" width="3" height="11" fill="#ff0000"/><rect x="1125" y="162" width="1" height="24" fill="#00ff7f"/><rect x="1124" y="163" width="3" height="22" fill="#00ff7f"/><rect x="1129" y="171" width="1" height="18" fill="#ff0000"/><rect x="1128" y="172" width="3" height="17" fill="#ff0000"/><rect x="1133" y="170" width="1" height="15" fill="#ff0000"/><rect x="1132" y="171" width="3" height="3" fill="#ff0000"/><rect x="1137" y="167" width="1" height="8" fill="#ff0000"/><rect x="1136" y="171" width="3" height="1" fill="#ff0000"/></g>
<path fill="#ffff00" d="M1 370h1v1h-1zM2 369h2v1h-2zM4 368h1v1h-1zM5 367h3v1h-3zM8 366h3v1h-3zM11 365h2v1h-2zM13 364h2v1h-2zM15 363h2v1h-2zM17 362h2v1h-2zM19 361h2v1h-2zM21 360h2v1h-2zM23 359h2v1h-2zM25 358h2v1h-2zM27 357h2v1h-2zM29 356h1v1h-1zM30 355h2v1h-2zM32 354h1v1h-1zM33 353h2v1h-2zM35 352h2v1h-2zM37 351h1v1h-1zM38 350h2v1h-2zM40 349h1v1h-1zM41 348h3v1h-3zM44 347h2v1h-2zM46 346h2v1h-2zM48 345h1v1h-1zM49 344h2v1h-2zM51 343h2v1h-2zM53 342h2v1h-2zM55 341h2v1h-2zM57 340h1v1h-1zM58 339h2v1h-2zM60 338h1v1h-1zM61 337h1v1h-1zM62 336h1v1h-1zM63 335h1v1h-1zM64 334h1v1h-1zM65 333h1v1h-1zM66 332h1v1h-1zM67 331h1v1h-1zM68 330h1v1h-1zM69 329h1v1h-1zM70 328h1v1h-1zM71 326h1v2h-1zM72 325h1v1h-1zM73 324h1v1h-1zM74 323h1v1h-1zM75 322h1v1h-1zM76 321h1v1h-1zM77 320h1v1h-1zM78 319h1v1h-1zM79 318h1v1h-1zM80 317h1v1h-1zM81 316h2v1h-2zM83 315h2v1h-2zM85 314h1v1h-1zM86 313h2v1h-2zM88 312h1v1h-1zM89 311h1v1h-1zM90 310h1v1h-1zM91 308h1v2h-1zM92 307h1v1h-1zM93 306h1v1h-1zM94 305h1v1h-1zM95 304h1v1h-1zM96 303h1v1h-1zM97 302h1v1h-1zM98 301h1v1h-1zM99 300h1v1h-1zM100 299h1v1h-1zM101 298h3v1h-3zM104 297h8v1h-8zM112 296h12v1h-12zM124 295h3v1h-3zM127 294h2v1h-2zM129 293h2v1h-2zM131 292h2v1h-2zM133 291h3v1h-3zM136 290h3v1h-3zM139 289h2v1h-2zM141 288h7v1h-7zM148 289h8v1h-8zM156 290h8v1h-8zM164 291h12v1h-12zM176 292h3v1h-3zM179 293h2v1h-2zM181 294h2v1h-2zM183 295h2v1h-2zM185 296h3v1h-3zM188 295h4v1h-4zM192 296h3v1h-3zM195 297h2v1h-2zM197 298h1v1h-1zM198 299h2v1h-2zM200 300h1v1h-1zM201 301h2v1h-2zM203 302h2v1h-2zM205 303h2v1h-2zM207 304h2v1h-2zM209 305h2v1h-2zM211 306h2v1h-2zM213 307h1v1h-1zM214 308h2v1h-2zM216 309h1v1h-1zM217 310h1v1h-1zM218 311h2v1h-2zM220 312h1v1h-1zM221 313h1v1h-1zM222 314h2v1h-2zM224 315h1v1h-1zM225 316h3v1h-3zM228 317h4v1h-4zM232 318h2v1h-2zM234 319h2v1h-2zM236 320h1v1h-1zM237 321h3v1h-3zM240 322h3v1h-3zM243 323h2v1h-2zM245 324h3v1h-3zM248 325h3v1h-3zM251 326h2v1h-2zM253 327h2v1h-2zM255 328h2v1h-2zM257 329h1v1h-1zM258 330h2v1h-2zM260 331h1v1h-1zM261 332h1v1h-1zM262 333h2v1h-2zM264 334h1v1h-1zM265 335h2v1h-2zM267 336h2v1h-2zM269 337h1v1h-1zM270 338h1v1h-1zM271 339h1v1h-1zM272 340h1v1h-1zM273 341h7v1h-7zM280 340h4v1h-4zM284 339h4v1h-4zM288 340h3v1h-3zM291 341h2v1h-2zM293 342h1v1h-1zM294 343h2v1h-2zM296 344h1v1h-1zM297 345h1v1h-1zM298 346h2v1h-2zM300 347h1v1h-1zM301 348h1v1h-1zM302 349h1v1h-1zM303 350h1v1h-1zM304 351h1v1h-1zM305 352h1v1h-1zM306 353h1v2h-1zM307 355h1v1h-1zM308 356h1v2h-1zM309 358h1v1h-1zM310 359h1v2h-1zM311 361h1v1h-1zM312 362h1v2h-1zM313 364h1v1h-1zM314 365h1v2h-1zM315 367h1v1h-1zM316 368h1v2h-1zM317 370h1v1h-1zM318 371h1v2h-1zM319 373h1v1h-1zM320 374h1v2h-1zM321 376h1v1h-1zM322 377h1v1h-1zM323 378h1v2h-1zM324 380h1v1h-1zM325 381h1v1h-1zM326 382h1v1h-1zM327 383h1v1h-1zM328 384h1v1h-1zM329 385h1v1h-1zM330 386h1v2h-1zM331 388h1v1h-1zM332 389h1v2h-1zM333 391h1v1h-1zM334 392h1v1h-1zM335 393h1v1h-1zM336 394h1v1h-1zM337 395h1v1h-1zM338 396h1v1h-1zM339 397h1v1h-1zM340 398h1v1h-1zM341 399h1v1h-1zM342 400h1v1h-1zM343 401h1v2h-1zM344 403h1v1h-1zM345 404h1v1h-1zM346 405h1v1h-1zM347 406h1v2h-1zM348 408h1v1h-1zM349 409h1v1h-1zM350 410h1v2h-1zM351 412h1v1h-1zM352 413h1v2h-1zM353 415h1v1h-1zM354 416h1v1h-1zM355 417h1v2h-1zM356 419h1v1h-1zM357 420h1v2h-1zM358 422h1v2h-1zM359 424h1v2h-1zM360 426h1v2h-1zM361 428h1v2h-1zM362 430h1v2h-1zM363 432h1v2h-1zM364 434h1v2h-1zM365 436h1v1h-1zM366 437h1v1h-1zM367 438h1v2h-1zM368 440h1v1h-1zM369 441h1v1h-1zM370 442h1v1h-1zM371 443h1v1h-1zM372 444h1v1h-1zM373 445h1v1h-1zM374 446h1v1h-1zM375 447h1v1h-1zM376 448h1v1h-1zM377 449h1v1h-1zM378 450h2v1h-2zM380 451h1v1h-1zM381 452h3v1h-3zM384 453h4v1h-4zM388 454h3v1h-3zM391 453h2v1h-2zM393 452h3v1h-3zM396 451h4v1h-4zM400 450h4v1h-4zM404 449h4v1h-4zM408 450h4v1h-4zM412 451h2v1h-2zM414 452h2v1h-2zM416 453h1v1h-1zM417 454h1v1h-1zM418 455h1v1h-1zM419 456h1v1h-1zM420 457h1v1h-1zM421 458h1v1h-1zM422 459h2v1h-2zM424 460h1v1h-1zM425 461h1v1h-1zM426 462h1v1h-1zM427 463h1v2h-1zM428 465h1v1h-1zM429 466h1v1h-1zM430 467h2v1h-2zM432 468h1v1h-1zM433 469h1v1h-1zM434 470h2v1h-2zM436 471h1v1h-1zM437 472h1v1h-1zM438 473h2v1h-2zM440 474h1v1h-1zM441 475h3v1h-3zM444 476h7v1h-7zM451 477h2v1h-2zM453 478h1v1h-1zM454 479h2v1h-2zM456 480h1v1h-1zM457 481h2v1h-2zM459 482h2v1h-2zM461 483h2v1h-2zM463 484h2v1h-2zM465 485h1v1h-1zM466 486h2v1h-2zM468 487h1v1h-1zM469 488h2v1h-2zM471 489h2v1h-2zM473 490h1v1h-1zM474 491h1v1h-1zM475 492h1v1h-1zM476 493h1v1h-1zM477 494h1v1h-1zM478 495h2v1h-2zM480 496h1v1h-1zM481 497h1v1h-1zM482 498h2v1h-2zM484 499h1v1h-1zM485 500h1v1h-1zM486 501h2v1h-2zM488 502h1v1h-1zM489 503h2v1h-2zM491 504h2v1h-2zM493 505h1v1h-1zM494 506h2v1h-2zM496 507h1v1h-1zM497 508h1v1h-1zM498 509h2v1h-2zM500 510h1v1h-1zM501 511h11v1h-11zM512 510h3v1h-3zM515 509h2v1h-2zM517 508h2v1h-2zM519 507h2v1h-2zM521 506h1v1h-1zM522 505h2v1h-2zM524 504h1v1h-1zM525 503h3v1h-3zM528 502h8v1h-8zM536 501h4v1h-4zM540 500h8v1h-8zM548 501h4v1h-4zM552 502h12v1h-12zM564 501h4v1h-4zM568 502h11v1h-11zM579 503h2v1h-2zM581 504h3v1h-3zM584 503h12v1h-12zM596 502h4v1h-4zM600 501h12v1h-12zM612 500h7v1h-7zM619 499h2v1h-2zM621 498h3v1h-3zM624 497h2v1h-2zM626 496h2v1h-2zM628 495h1v1h-1zM629 494h1v1h-1zM630 493h1v1h-1zM631 492h1v1h-1zM632 491h1v1h-1zM633 490h1v1h-1zM634 489h1v1h-1zM635 488h1v1h-1zM636 487h1v1h-1zM637 486h1v1h-1zM638 485h1v1h-1zM639 483h1v2h-1zM640 482h1v1h-1zM641 481h1v1h-1zM642 479h1v2h-1zM643 478h1v1h-1zM644 476h1v2h-1zM645 474h1v2h-1zM646 472h1v2h-1zM647 470h1v2h-1zM648 468h1v2h-1zM649 465h1v3h-1zM650 463h1v2h-1zM651 461h1v2h-1zM652 459h1v2h-1zM653 456h1v3h-1zM654 454h1v2h-1zM655 452h1v2h-1zM656 450h1v2h-1zM657 447h1v3h-1zM658 445h1v2h-1zM659 442h1v3h-1zM660 440h1v2h-1zM661 437h1v3h-1zM662 434h1v3h-1zM663 431h1v3h-1zM664 428h1v3h-1zM665 425h1v3h-1zM666 423h1v2h-1zM667 420h1v3h-1zM668 418h1v2h-1zM669 415h1v3h-1zM670 413h1v2h-1zM671 410h1v3h-1zM672 408h1v2h-1zM673 405h1v3h-1zM674 403h1v2h-1zM675 401h1v2h-1zM676 399h1v2h-1zM677 396h1v3h-1zM678 394h1v2h-1zM679 392h1v2h-1zM680 390h1v2h-1zM681 388h1v2h-1zM682 386h1v2h-1zM683 384h1v2h-1zM684 382h1v2h-1zM685 380h1v2h-1zM686 378h1v2h-1zM687 376h1v2h-1zM688 374h1v2h-1zM689 372h1v2h-1zM690 370h1v2h-1zM691 368h1v2h-1zM692 366h1v2h-1zM693 364h1v2h-1zM694 362h1v2h-1zM695 360h1v2h-1zM696 358h1v2h-1zM697 355h1v3h-1zM698 353h1v2h-1zM699 351h1v2h-1zM700 349h1v2h-1zM701 346h1v3h-1zM702 344h1v2h-1zM703 342h1v2h-1zM704 340h1v2h-1zM705 337h1v3h-1zM706 335h1v2h-1zM707 333h1v2h-1zM708 331h1v2h-1zM709 330h1v1h-1zM710 328h1v2h-1zM711 327h1v1h-1zM712 325h1v2h-1zM713 324h1v1h-1zM714 322h1v2h-1zM715 321h1v1h-1zM716 319h1v2h-1zM717 318h1v1h-1zM718 316h1v2h-1zM719 315h1v1h-1zM720 313h1v2h-1zM721 312h1v1h-1zM722 311h1v1h-1zM723 310h1v1h-1zM724 309h1v1h-1zM725 308h1v1h-1zM726 307h1v1h-1zM727 305h1v2h-1zM728 304h1v1h-1zM729 303h7v1h-7zM736 302h4v1h-4zM740 301h11v1h-11zM751 302h2v1h-2zM753 303h3v1h-3zM756 304h2v1h-2zM758 305h1v1h-1zM759 306h1v1h-1zM760 307h1v1h-1zM761 308h1v1h-1zM762 309h2v1h-2zM764 310h1v1h-1zM765 311h3v1h-3zM768 312h4v1h-4zM772 313h3v1h-3zM775 314h2v1h-2zM777 315h1v1h-1zM778 316h2v1h-2zM780 317h1v1h-1zM781 318h1v1h-1zM782 319h2v1h-2zM784 320h1v1h-1zM785 321h1v1h-1zM786 322h2v1h-2zM788 323h1v1h-1zM789 324h3v1h-3zM792 325h3v1h-3zM795 326h2v1h-2zM797 327h1v1h-1zM798 328h2v1h-2zM800 329h1v1h-1zM801 330h3v1h-3zM804 331h2v1h-2zM806 332h2v1h-2zM808 333h1v1h-1zM809 334h2v1h-2zM811 335h2v1h-2zM813 336h2v1h-2zM815 337h2v1h-2zM817 338h1v1h-1zM818 339h2v1h-2zM820 340h1v1h-1zM821 341h2v1h-2zM823 342h2v1h-2zM825 343h1v1h-1zM826 344h2v1h-2zM828 345h1v1h-1zM829 346h2v1h-2zM831 347h2v1h-2zM833 348h3v1h-3zM836 349h4v1h-4zM840 350h4v1h-4zM844 349h4v1h-4zM848 348h4v1h-4zM852 347h4v1h-4zM856 348h4v1h-4zM860 349h4v1h-4zM864 348h4v1h-4zM868 347h4v1h-4zM872 346h3v1h-3zM875 345h2v1h-2zM877 344h1v1h-1zM878 343h1v1h-1zM879 342h1v1h-1zM880 341h1v1h-1zM881 340h1v1h-1zM882 339h1v1h-1zM883 338h1v1h-1zM884 337h1v1h-1zM885 335h1v2h-1zM886 332h1v3h-1zM887 330h1v2h-1zM888 327h1v3h-1zM889 325h1v2h-1zM890 323h1v2h-1zM891 321h1v2h-1zM892 319h1v2h-1zM893 317h1v2h-1zM894 315h1v2h-1zM895 313h1v2h-1zM896 311h1v2h-1zM897 308h1v3h-1zM898 306h1v2h-1zM899 303h1v3h-1zM900 301h1v2h-1zM901 298h1v3h-1zM902 296h1v2h-1zM903 294h1v2h-1zM904 292h1v2h-1zM905 289h1v3h-1zM906 287h1v2h-1zM907 284h1v3h-1zM908 282h1v2h-1zM909 280h1v2h-1zM910 278h1v2h-1zM911 276h1v2h-1zM912 274h1v2h-1zM913 273h1v1h-1zM914 271h1v2h-1zM915 269h1v2h-1zM916 267h1v2h-1zM917 265h1v2h-1zM918 263h1v2h-1zM919 261h1v2h-1zM920 259h1v2h-1zM921 257h1v2h-1zM922 255h1v2h-1zM923 253h1v2h-1zM924 251h1v2h-1zM925 249h1v2h-1zM926 247h1v2h-1zM927 245h1v2h-1zM928 243h1v2h-1zM929 241h1v2h-1zM930 239h1v2h-1zM931 237h1v2h-1zM932 235h1v2h-1zM933 232h1v3h-1zM934 230h1v2h-1zM935 228h1v2h-1zM936 226h1v2h-1zM937 224h1v2h-1zM938 222h1v2h-1zM939 219h1v3h-1zM940 217h1v2h-1zM941 214h1v3h-1zM942 211h1v3h-1zM943 208h1v3h-1zM944 205h1v3h-1zM945 202h1v3h-1zM946 199h1v3h-1zM947 196h1v3h-1zM948 193h1v3h-1zM949 190h1v3h-1zM950 187h1v3h-1zM951 183h1v4h-1zM952 180h1v3h-1zM953 177h1v3h-1zM954 174h1v3h-1zM955 171h1v3h-1zM956 168h1v3h-1zM957 165h1v3h-1zM958 162h1v3h-1zM959 160h1v2h-1zM960 157h1v3h-1zM961 154h1v3h-1zM962 152h1v2h-1zM963 150h1v2h-1zM964 148h1v2h-1zM965 145h1v3h-1zM966 143h1v2h-1zM967 141h1v2h-1zM968 139h1v2h-1zM969 137h1v2h-1zM970 137h1v1h-1zM971 136h2v1h-2zM973 135h1v1h-1zM974 134h1v1h-1zM975 132h1v2h-1zM976 131h1v1h-1zM977 130h2v1h-2zM979 129h2v1h-2zM981 128h3v1h-3zM984 127h4v1h-4zM988 126h6v1h-6zM994 125h1v1h-1zM995 124h1v1h-1zM996 123h1v1h-1zM997 122h11v1h-11zM1008 121h4v1h-4zM1012 120h7v1h-7zM1019 119h2v1h-2zM1021 118h3v1h-3zM1024 117h4v1h-4zM1028 118h2v1h-2zM1030 119h2v1h-2zM1032 120h1v1h-1zM1033 121h2v1h-2zM1035 122h2v1h-2zM1037 123h2v1h-2zM1039 124h2v1h-2zM1041 125h7v1h-7zM1048 126h3v1h-3zM1051 127h2v1h-2zM1053 128h3v1h-3zM1056 129h4v1h-4zM1060 130h4v1h-4zM1064 131h4v1h-4zM1068 130h3v1h-3zM1071 129h2v1h-2zM1073 128h2v1h-2zM1075 127h2v1h-2zM1077 126h7v1h-7zM1084 125h4v1h-4zM1088 124h4v1h-4zM1092 123h4v1h-4zM1096 122h7v1h-7zM1103 123h2v1h-2zM1105 124h2v1h-2zM1107 125h2v1h-2zM1109 126h3v1h-3zM1112 127h3v1h-3zM1115 128h2v1h-2zM1117 129h2v1h-2zM1119 130h2v1h-2zM1121 131h1v1h-1zM1122 132h2v1h-2zM1124 133h1v1h-1zM1125 134h1v1h-1zM1126 135h1v1h-1zM1127 136h1v1h-1zM1128 137h1v1h-1zM1129 138h1v1h-1zM1130 139h1v1h-1zM1131 140h1v1h-1zM1132 141h1v1h-1zM1133 142h1v1h-1zM1134 143h2v1h-2zM1136 144h1v1h-1zM1137 145h1v1h-1z"/>
<path fill="#ff0000" d="M1 365h2v1h-2zM3 364h2v1h-2zM5 363h3v1h-3zM8 362h3v1h-3zM11 361h2v1h-2zM13 360h2v1h-2zM15 359h2v1h-2zM17 358h2v1h-2zM19 357h2v1h-2zM21 356h2v1h-2zM23 355h2v1h-2zM25 354h3v1h-3zM28 353h2v1h-2zM30 352h1v1h-1zM31 351h1v1h-1zM32 350h1v1h-1zM33 349h1v1h-1zM34 348h1v1h-1zM35 347h1v1h-1zM36 346h1v1h-1zM37 345h1v1h-1zM38 343h1v2h-1zM39 342h1v1h-1zM40 340h1v2h-1zM41 339h2v1h-2zM43 338h2v1h-2zM45 337h1v1h-1zM46 336h1v1h-1zM47 334h1v2h-1zM48 333h1v1h-1zM49 332h1v1h-1zM50 331h1v1h-1zM51 330h1v1h-1zM52 329h1v1h-1zM53 328h2v1h-2zM55 327h2v1h-2zM57 326h2v1h-2zM59 325h2v1h-2zM61 324h1v1h-1zM62 323h1v1h-1zM63 321h1v2h-1zM64 320h1v1h-1zM65 319h1v1h-1zM66 318h1v1h-1zM67 317h1v1h-1zM68 316h1v1h-1zM69 315h1v1h-1zM70 314h1v1h-1zM71 313h1v1h-1zM72 312h1v1h-1zM73 311h1v1h-1zM74 310h2v1h-2zM76 309h1v1h-1zM77 308h1v1h-1zM78 307h2v1h-2zM80 306h1v1h-1zM81 305h1v1h-1zM82 304h1v1h-1zM83 303h1v1h-1zM84 302h1v1h-1zM85 301h2v1h-2zM87 300h2v1h-2zM89 299h1v1h-1zM90 298h1v1h-1zM91 297h1v1h-1zM92 296h1v1h-1zM93 295h1v1h-1zM94 294h2v1h-2zM96 293h1v1h-1zM97 292h1v1h-1zM98 290h1v2h-1zM99 288h1v2h-1zM100 286h1v2h-1zM101 285h6v1h-6zM107 286h2v1h-2zM109 287h7v1h-7zM116 288h4v1h-4zM120 289h11v1h-11zM131 288h2v1h-2zM133 287h3v1h-3zM136 288h4v1h-4zM140 289h4v1h-4zM144 290h2v1h-2zM146 291h1v1h-1zM147 292h1v1h-1zM148 293h1v1h-1zM149 294h2v1h-2zM151 295h2v1h-2zM153 296h1v1h-1zM154 297h2v1h-2zM156 298h1v1h-1zM157 299h3v1h-3zM160 298h3v1h-3zM163 297h2v1h-2zM165 296h2v1h-2zM167 295h2v1h-2zM169 294h2v1h-2zM171 293h2v1h-2zM173 292h2v1h-2zM175 291h2v1h-2zM177 290h3v1h-3zM180 289h4v1h-4zM184 290h4v1h-4zM188 291h2v1h-2zM190 292h1v1h-1zM191 293h1v2h-1zM192 295h1v1h-1zM193 296h1v1h-1zM194 297h1v2h-1zM195 299h1v1h-1zM196 300h1v2h-1zM197 302h1v1h-1zM198 303h1v1h-1zM199 304h1v1h-1zM200 305h1v1h-1zM201 306h1v1h-1zM202 307h2v1h-2zM204 308h1v1h-1zM205 309h1v1h-1zM206 310h1v1h-1zM207 311h1v1h-1zM208 312h1v1h-1zM209 313h2v1h-2zM211 314h2v1h-2zM213 315h1v1h-1zM214 316h2v1h-2zM216 317h1v1h-1zM217 318h1v1h-1zM218 319h2v1h-2zM220 320h1v1h-1zM221 321h1v1h-1zM222 322h1v1h-1zM223 323h1v2h-1zM224 325h1v1h-1zM225 326h1v1h-1zM226 327h2v1h-2zM228 328h1v1h-1zM229 329h1v1h-1zM230 330h1v1h-1zM231 331h1v1h-1zM232 332h1v1h-1zM233 333h1v1h-1zM234 334h2v1h-2zM236 335h1v1h-1zM237 336h1v1h-1zM238 337h2v1h-2zM240 338h1v1h-1zM241 339h1v1h-1zM242 340h2v1h-2zM244 341h1v1h-1zM245 342h1v1h-1zM246 341h2v1h-2zM248 340h1v1h-1zM249 339h1v1h-1zM250 338h2v1h-2zM252 337h1v1h-1zM253 336h2v1h-2zM255 335h2v1h-2zM257 334h3v1h-3zM260 333h4v1h-4zM264 334h3v1h-3zM267 335h2v1h-2zM269 336h2v1h-2zM271 337h2v1h-2zM273 338h11v1h-11zM284 339h2v1h-2zM286 340h2v1h-2zM288 341h1v1h-1zM289 342h1v1h-1zM290 343h2v1h-2zM292 344h1v1h-1zM293 345h1v1h-1zM294 346h2v1h-2zM296 347h1v1h-1zM297 348h1v1h-1zM298 349h1v2h-1zM299 351h1v1h-1zM300 352h1v2h-1zM301 354h1v2h-1zM302 356h1v2h-1zM303 358h1v2h-1zM304 360h1v2h-1zM305 362h1v3h-1zM306 365h1v2h-1zM307 367h1v2h-1zM308 369h1v2h-1zM309 371h1v3h-1zM310 374h1v2h-1zM311 376h1v2h-1zM312 378h1v2h-1zM313 380h1v3h-1zM314 383h1v2h-1zM315 385h1v2h-1zM316 387h1v2h-1zM317 389h1v3h-1zM318 392h1v2h-1zM319 394h1v2h-1zM320 396h1v2h-1zM321 398h1v1h-1zM322 399h1v2h-1zM323 401h1v2h-1zM324 403h1v2h-1zM325 405h1v1h-1zM326 406h1v1h-1zM327 407h1v1h-1zM328 408h1v1h-1zM329 409h1v1h-1zM330 410h1v1h-1zM331 411h1v2h-1zM332 413h1v1h-1zM333 414h1v1h-1zM334 415h1v1h-1zM335 416h1v1h-1zM336 417h1v1h-1zM337 418h1v1h-1zM338 419h1v2h-1zM339 421h1v1h-1zM340 422h1v2h-1zM341 424h1v1h-1zM342 425h1v1h-1zM343 426h1v2h-1zM344 428h1v1h-1zM345 429h1v1h-1zM346 430h1v2h-1zM347 432h1v1h-1zM348 433h1v2h-1zM349 435h1v1h-1zM350 436h1v2h-1zM351 438h1v2h-1zM352 440h1v2h-1zM353 442h1v1h-1zM354 443h1v1h-1zM355 444h1v1h-1zM356 445h1v1h-1zM357 446h1v1h-1zM358 447h1v1h-1zM359 448h1v2h-1zM360 450h1v1h-1zM361 451h1v1h-1zM362 452h1v1h-1zM363 453h1v1h-1zM364 454h1v1h-1zM365 455h7v1h-7zM372 454h11v1h-11zM383 455h2v1h-2zM385 456h3v1h-3zM388 457h4v1h-4zM392 458h4v1h-4zM396 459h4v1h-4zM400 460h3v1h-3zM403 459h2v1h-2zM405 458h3v1h-3zM408 457h3v1h-3zM411 456h2v1h-2zM413 455h2v1h-2zM415 454h2v1h-2zM417 453h6v1h-6zM423 454h2v1h-2zM425 455h1v1h-1zM426 456h1v1h-1zM427 457h1v2h-1zM428 459h1v1h-1zM429 460h1v1h-1zM430 461h1v1h-1zM431 462h1v2h-1zM432 464h1v1h-1zM433 465h1v1h-1zM434 466h1v2h-1zM435 468h1v1h-1zM436 469h1v2h-1zM437 471h1v2h-1zM438 473h1v2h-1zM439 475h1v2h-1zM440 477h1v2h-1zM441 479h1v1h-1zM442 480h1v2h-1zM443 482h1v1h-1zM444 483h1v2h-1zM445 485h1v1h-1zM446 486h1v2h-1zM447 488h1v1h-1zM448 489h1v2h-1zM449 491h1v1h-1zM450 492h1v1h-1zM451 493h1v1h-1zM452 494h1v1h-1zM453 495h1v1h-1zM454 496h1v2h-1zM455 498h1v1h-1zM456 499h1v2h-1zM457 501h1v1h-1zM458 502h1v1h-1zM459 503h1v1h-1zM460 504h1v1h-1zM461 505h1v1h-1zM462 506h2v1h-2zM464 507h1v1h-1zM465 508h1v1h-1zM466 509h2v1h-2zM468 510h1v1h-1zM469 511h7v1h-7zM476 512h4v1h-4zM480 513h4v1h-4zM484 512h3v1h-3zM487 511h2v1h-2zM489 510h1v1h-1zM490 509h2v1h-2zM492 508h1v1h-1zM493 507h1v1h-1zM494 506h2v1h-2zM496 505h1v1h-1zM497 504h3v1h-3zM500 505h8v1h-8zM508 504h4v1h-4zM512 503h12v1h-12zM524 502h11v1h-11zM535 501h2v1h-2zM537 500h3v1h-3zM540 501h8v1h-8zM548 502h4v1h-4zM552 501h3v1h-3zM555 500h2v1h-2zM557 499h15v1h-15zM572 500h3v1h-3zM575 501h2v1h-2zM577 502h1v1h-1zM578 503h2v1h-2zM580 504h1v1h-1zM581 505h2v1h-2zM583 506h2v1h-2zM585 507h11v1h-11zM596 506h2v1h-2zM598 505h2v1h-2zM600 504h1v1h-1zM601 503h3v1h-3zM604 502h3v1h-3zM607 501h2v1h-2zM609 500h3v1h-3zM612 499h4v1h-4zM616 498h4v1h-4zM620 497h2v1h-2zM622 496h2v1h-2zM624 495h1v1h-1zM625 494h1v1h-1zM626 493h1v1h-1zM627 491h1v2h-1zM628 490h1v1h-1zM629 489h1v1h-1zM630 487h1v2h-1zM631 486h1v1h-1zM632 484h1v2h-1zM633 482h1v2h-1zM634 480h1v2h-1zM635 478h1v2h-1zM636 476h1v2h-1zM637 474h1v2h-1zM638 472h1v2h-1zM639 470h1v2h-1zM640 468h1v2h-1zM641 465h1v3h-1zM642 463h1v2h-1zM643 460h1v3h-1zM644 458h1v2h-1zM645 455h1v3h-1zM646 452h1v3h-1zM647 449h1v3h-1zM648 446h1v3h-1zM649 443h1v3h-1zM650 440h1v3h-1zM651 437h1v3h-1zM652 434h1v3h-1zM653 431h1v3h-1zM654 428h1v3h-1zM655 426h1v2h-1zM656 423h1v3h-1zM657 420h1v3h-1zM658 417h1v3h-1zM659 413h1v4h-1zM660 410h1v3h-1zM661 407h1v3h-1zM662 403h1v4h-1zM663 400h1v3h-1zM664 396h1v4h-1zM665 393h1v3h-1zM666 390h1v3h-1zM667 386h1v4h-1zM668 383h1v3h-1zM669 380h1v3h-1zM670 376h1v4h-1zM671 373h1v3h-1zM672 369h1v4h-1zM673 366h1v3h-1zM674 363h1v3h-1zM675 360h1v3h-1zM676 357h1v3h-1zM677 354h1v3h-1zM678 351h1v3h-1zM679 347h1v4h-1zM680 344h1v3h-1zM681 341h1v3h-1zM682 339h1v2h-1zM683 337h1v2h-1zM684 335h1v2h-1zM685 332h1v3h-1zM686 330h1v2h-1zM687 328h1v2h-1zM688 326h1v2h-1zM689 324h1v2h-1zM690 322h1v2h-1zM691 320h1v2h-1zM692 318h1v2h-1zM693 317h1v1h-1zM694 315h1v2h-1zM695 314h1v1h-1zM696 312h1v2h-1zM697 311h1v1h-1zM698 309h1v2h-1zM699 308h1v1h-1zM700 306h1v2h-1zM701 305h3v1h-3zM704 304h7v1h-7zM711 303h2v1h-2zM713 302h3v1h-3zM716 303h4v1h-4zM720 304h4v1h-4zM724 303h4v1h-4zM728 302h4v1h-4zM732 303h7v1h-7zM739 302h2v1h-2zM741 301h3v1h-3zM744 300h4v1h-4zM748 299h3v1h-3zM751 300h2v1h-2zM753 301h1v1h-1zM754 302h2v1h-2zM756 303h1v1h-1zM757 304h1v1h-1zM758 305h1v1h-1zM759 306h1v2h-1zM760 308h1v1h-1zM761 309h1v1h-1zM762 310h2v1h-2zM764 311h1v1h-1zM765 312h1v1h-1zM766 313h1v1h-1zM767 314h1v1h-1zM768 315h1v1h-1zM769 316h1v1h-1zM770 317h2v1h-2zM772 318h1v1h-1zM773 319h1v1h-1zM774 320h2v1h-2zM776 321h1v1h-1zM777 322h1v1h-1zM778 323h1v1h-1zM779 324h1v1h-1zM780 325h1v1h-1zM781 326h1v1h-1zM782 327h1v2h-1zM783 329h1v1h-1zM784 330h1v2h-1zM785 332h1v1h-1zM786 333h1v1h-1zM787 334h1v1h-1zM788 335h1v1h-1zM789 336h1v1h-1zM790 337h2v1h-2zM792 338h1v1h-1zM793 339h1v1h-1zM794 340h2v1h-2zM796 341h1v1h-1zM797 342h1v1h-1zM798 343h1v1h-1zM799 344h1v1h-1zM800 345h1v1h-1zM801 346h1v1h-1zM802 347h2v1h-2zM804 348h1v1h-1zM805 349h15v1h-15zM820 348h4v1h-4zM824 347h4v1h-4zM828 348h15v1h-15zM843 347h2v1h-2zM845 346h15v1h-15zM860 347h4v1h-4zM864 348h8v1h-8zM872 347h3v1h-3zM875 346h2v1h-2zM877 345h1v1h-1zM878 343h1v2h-1zM879 341h1v2h-1zM880 339h1v2h-1zM881 338h1v1h-1zM882 336h1v2h-1zM883 334h1v2h-1zM884 332h1v2h-1zM885 329h1v3h-1zM886 325h1v4h-1zM887 321h1v4h-1zM888 317h1v4h-1zM889 313h1v4h-1zM890 310h1v3h-1zM891 308h1v2h-1zM892 305h1v3h-1zM893 302h1v3h-1zM894 298h1v4h-1zM895 294h1v4h-1zM896 290h1v4h-1zM897 287h1v3h-1zM898 284h1v3h-1zM899 280h1v4h-1zM900 277h1v3h-1zM901 274h1v3h-1zM902 270h1v4h-1zM903 266h1v4h-1zM904 262h1v4h-1zM905 259h1v3h-1zM906 255h1v4h-1zM907 252h1v3h-1zM908 248h1v4h-1zM909 245h1v3h-1zM910 243h1v2h-1zM911 240h1v3h-1zM912 238h1v2h-1zM913 235h1v3h-1zM914 232h1v3h-1zM915 229h1v3h-1zM916 226h1v3h-1zM917 223h1v3h-1zM918 220h1v3h-1zM919 218h1v2h-1zM920 215h1v3h-1zM921 212h1v3h-1zM922 210h1v2h-1zM923 207h1v3h-1zM924 205h1v2h-1zM925 202h1v3h-1zM926 199h1v3h-1zM927 195h1v4h-1zM928 192h1v3h-1zM929 189h1v3h-1zM930 186h1v3h-1zM931 184h1v2h-1zM932 181h1v3h-1zM933 179h1v2h-1zM934 177h1v2h-1zM935 176h1v1h-1zM936 174h1v2h-1zM937 173h1v1h-1zM938 171h1v2h-1zM939 169h1v2h-1zM940 167h1v2h-1zM941 166h3v1h-3zM944 165h2v1h-2zM945 164h1v1h-1zM946 162h1v2h-1zM947 160h1v2h-1zM948 158h1v2h-1zM949 157h1v1h-1zM950 156h1v1h-1zM951 154h1v2h-1zM952 153h1v1h-1zM953 152h1v1h-1zM954 150h1v2h-1zM955 149h1v1h-1zM956 147h1v2h-1zM957 146h1v1h-1zM958 145h2v1h-2zM960 144h1v1h-1zM961 143h1v1h-1zM962 142h1v1h-1zM963 140h1v2h-1zM964 139h1v1h-1zM965 137h1v2h-1zM966 134h1v3h-1zM967 131h1v3h-1zM968 128h1v3h-1zM969 125h1v3h-1zM970 123h1v2h-1zM971 121h1v2h-1zM972 119h1v2h-1zM973 118h1v1h-1zM974 116h1v2h-1zM975 114h1v2h-1zM976 112h1v2h-1zM977 111h1v1h-1zM978 109h1v2h-1zM979 108h1v1h-1zM980 106h1v2h-1zM981 105h1v1h-1zM982 104h2v1h-2zM984 103h1v1h-1zM985 102h1v1h-1zM986 101h2v1h-2zM988 100h1v1h-1zM989 99h1v1h-1zM990 98h2v1h-2zM992 97h1v1h-1zM993 96h5v1h-5zM998 97h1v1h-1zM999 98h1v2h-1zM1000 100h1v1h-1zM1001 101h1v2h-1zM1002 103h1v2h-1zM1003 105h1v2h-1zM1004 107h1v2h-1zM1005 109h1v2h-1zM1006 111h1v2h-1zM1007 113h1v2h-1zM1008 115h1v2h-1zM1009 117h1v1h-1zM1010 118h1v2h-1zM1011 120h1v1h-1zM1012 121h1v2h-1zM1013 123h1v1h-1zM1014 124h2v1h-2zM1016 125h1v1h-1zM1017 126h1v1h-1zM1018 127h1v1h-1zM1019 128h1v2h-1zM1020 130h1v1h-1zM1021 131h1v1h-1zM1022 132h1v1h-1zM1023 133h1v2h-1zM1024 135h1v1h-1zM1025 136h1v1h-1zM1026 137h1v1h-1zM1027 138h1v1h-1zM1028 139h1v1h-1zM1029 140h1v1h-1zM1030 141h2v1h-2zM1032 142h1v1h-1zM1033 143h3v1h-3zM1036 144h4v1h-4zM1040 143h3v1h-3zM1043 142h2v1h-2zM1045 141h2v1h-2zM1047 140h2v1h-2zM1049 139h1v1h-1zM1050 138h1v1h-1zM1051 137h1v1h-1zM1052 136h1v1h-1zM1053 135h1v1h-1zM1054 133h1v2h-1zM1055 132h1v1h-1zM1056 130h1v2h-1zM1057 129h1v1h-1zM1058 127h1v2h-1zM1059 126h1v1h-1zM1060 124h1v2h-1zM1061 123h1v1h-1zM1062 122h2v1h-2zM1064 121h1v1h-1zM1065 120h1v1h-1zM1066 119h2v1h-2zM1068 118h1v1h-1zM1069 117h1v1h-1zM1070 116h1v1h-1zM1071 114h1v2h-1zM1072 113h1v1h-1zM1073 112h1v1h-1zM1074 111h1v1h-1zM1075 110h1v1h-1zM1076 109h1v1h-1zM1077 108h3v1h-3zM1080 109h2v1h-2zM1082 110h2v1h-2zM1084 111h1v1h-1zM1085 112h2v1h-2zM1087 113h2v1h-2zM1089 114h1v1h-1zM1090 115h2v1h-2zM1092 116h1v1h-1zM1093 117h3v1h-3zM1096 118h2v1h-2zM1098 119h1v1h-1zM1099 120h1v2h-1zM1100 122h1v1h-1zM1101 123h1v1h-1zM1102 124h1v1h-1zM1103 125h1v1h-1zM1104 126h1v1h-1zM1105 127h1v1h-1zM1106 128h1v1h-1zM1107 129h1v2h-1zM1108 131h1v1h-1zM1109 132h1v1h-1zM1110 133h1v1h-1zM1111 134h1v2h-1zM1112 136h1v1h-1zM1113 137h1v1h-1zM1114 138h1v1h-1zM1115 139h1v1h-1zM1116 140h1v1h-1zM1117 141h1v1h-1zM1118 142h2v1h-2zM1120 143h1v1h-1zM1121 144h1v1h-1zM1122 145h1v1h-1zM1123 146h1v2h-1zM1124 148h1v1h-1zM1125 149h1v1h-1zM1126 150h1v2h-1zM1127 152h1v2h-1zM1128 154h1v2h-1zM1129 156h1v1h-1zM1130 157h1v2h-1zM1131 159h1v1h-1zM1132 160h1v2h-1zM1133 162h2v1h-2zM1135 163h2v1h-2zM1137 164h1v1h-1z"/>
<path fill="#0000cd" d="M1 367h1v1h-1zM2 366h2v1h-2zM4 365h1v1h-1zM5 364h1v1h-1zM6 363h2v1h-2zM8 362h1v1h-1zM9 361h1v1h-1zM10 359h1v2h-1zM11 358h1v1h-1zM12 356h1v2h-1zM13 355h1v1h-1zM14 354h1v1h-1zM15 353h1v1h-1zM16 352h1v1h-1zM17 351h1v1h-1zM18 349h1v2h-1zM19 348h1v1h-1zM20 346h1v2h-1zM21 345h1v1h-1zM22 344h1v1h-1zM23 342h1v2h-1zM24 341h1v1h-1zM25 340h3v1h-3zM28 339h2v1h-2zM30 338h1v1h-1zM31 336h1v2h-1zM32 335h1v1h-1zM33 334h1v1h-1zM34 333h1v1h-1zM35 331h1v2h-1zM36 330h1v1h-1zM37 329h1v1h-1zM38 327h1v2h-1zM39 326h1v1h-1zM40 324h1v2h-1zM41 323h5v1h-5zM46 322h2v1h-2zM48 321h1v1h-1zM49 320h1v1h-1zM50 319h1v1h-1zM51 318h1v1h-1zM52 317h1v1h-1zM53 316h2v1h-2zM55 315h2v1h-2zM57 314h5v1h-5zM62 313h1v1h-1zM63 311h1v2h-1zM64 310h1v1h-1zM65 309h3v1h-3zM68 308h2v1h-2zM69 307h1v1h-1zM70 305h1v2h-1zM71 303h1v2h-1zM72 301h1v2h-1zM73 299h1v2h-1zM74 299h1v1h-1zM75 298h2v1h-2zM77 297h1v1h-1zM78 296h1v1h-1zM79 295h1v1h-1zM80 294h1v1h-1zM81 293h1v1h-1zM82 292h1v1h-1zM83 290h1v2h-1zM84 289h1v1h-1zM85 288h1v1h-1zM86 287h1v1h-1zM87 286h1v1h-1zM88 285h1v1h-1zM89 284h1v1h-1zM90 283h1v1h-1zM91 282h1v1h-1zM92 281h1v1h-1zM93 280h1v1h-1zM94 279h1v1h-1zM95 278h1v1h-1zM96 277h1v1h-1zM97 276h1v1h-1zM98 275h1v1h-1zM99 273h1v2h-1zM100 272h1v1h-1zM101 271h2v1h-2zM103 272h2v1h-2zM105 273h1v2h-1zM106 275h1v2h-1zM107 277h1v2h-1zM108 279h1v2h-1zM109 281h1v1h-1zM110 282h1v1h-1zM111 283h1v2h-1zM112 285h1v1h-1zM113 286h1v1h-1zM114 287h1v1h-1zM115 288h1v2h-1zM116 290h1v1h-1zM117 291h1v1h-1zM118 292h1v2h-1zM119 294h1v2h-1zM120 296h1v2h-1zM121 298h1v1h-1zM122 299h1v1h-1zM123 300h1v2h-1zM124 302h1v1h-1zM125 303h1v1h-1zM126 304h1v1h-1zM127 305h1v1h-1zM128 306h1v1h-1zM129 307h1v1h-1zM130 306h1v1h-1zM131 304h1v2h-1zM132 303h1v1h-1zM133 302h1v1h-1zM134 300h1v2h-1zM135 298h1v2h-1zM136 296h1v2h-1zM137 295h1v1h-1zM138 294h1v1h-1zM139 293h1v1h-1zM140 292h1v1h-1zM141 291h3v1h-3zM144 290h14v1h-14zM158 291h1v1h-1zM159 292h1v2h-1zM160 294h1v1h-1zM161 295h2v1h-2zM163 296h2v1h-2zM165 297h3v1h-3zM168 296h3v1h-3zM171 295h2v1h-2zM173 294h1v1h-1zM174 293h1v1h-1zM175 291h1v2h-1zM176 290h1v1h-1zM177 289h7v1h-7zM184 290h3v1h-3zM187 289h2v1h-2zM189 288h1v1h-1zM190 289h1v2h-1zM191 291h1v2h-1zM192 293h1v2h-1zM193 295h1v2h-1zM194 297h1v3h-1zM195 300h1v4h-1zM196 304h1v3h-1zM197 307h1v3h-1zM198 310h1v3h-1zM199 313h1v2h-1zM200 315h1v3h-1zM201 318h1v3h-1zM202 321h1v2h-1zM203 323h1v3h-1zM204 326h1v2h-1zM205 328h1v3h-1zM206 331h1v2h-1zM207 333h1v2h-1zM208 335h1v2h-1zM209 337h2v1h-2zM211 338h2v1h-2zM213 339h1v2h-1zM214 341h1v2h-1zM215 343h1v2h-1zM216 345h1v2h-1zM217 347h5v1h-5zM222 346h2v1h-2zM224 345h1v1h-1zM225 344h1v1h-1zM226 343h1v1h-1zM227 341h1v2h-1zM228 340h1v1h-1zM229 339h2v1h-2zM231 338h2v1h-2zM233 337h3v1h-3zM236 336h3v1h-3zM239 337h2v1h-2zM241 338h5v1h-5zM246 336h1v2h-1zM247 334h1v2h-1zM248 332h1v2h-1zM249 331h2v1h-2zM251 330h2v1h-2zM253 329h7v1h-7zM260 330h3v1h-3zM263 331h2v1h-2zM265 332h2v1h-2zM267 333h2v1h-2zM269 334h1v1h-1zM270 335h1v1h-1zM271 336h1v1h-1zM272 337h1v1h-1zM273 338h1v1h-1zM274 339h1v2h-1zM275 341h1v2h-1zM276 343h1v2h-1zM277 345h1v1h-1zM278 346h2v1h-2zM280 347h1v1h-1zM281 348h2v1h-2zM283 349h2v1h-2zM285 350h1v1h-1zM286 351h1v1h-1zM287 352h1v1h-1zM288 353h1v1h-1zM289 354h1v1h-1zM290 355h1v1h-1zM291 356h1v1h-1zM292 357h1v1h-1zM293 358h1v1h-1zM294 359h1v1h-1zM295 360h1v1h-1zM296 361h1v1h-1zM297 362h1v2h-1zM298 364h1v2h-1zM299 366h1v2h-1zM300 368h1v2h-1zM301 370h1v2h-1zM302 372h1v2h-1zM303 374h1v3h-1zM304 377h1v2h-1zM305 379h1v4h-1zM306 383h1v4h-1zM307 387h1v4h-1zM308 391h1v4h-1zM309 395h1v5h-1zM310 400h1v4h-1zM311 404h1v4h-1zM312 408h1v4h-1zM313 412h1v3h-1zM314 415h1v3h-1zM315 418h1v4h-1zM316 422h1v3h-1zM317 425h1v3h-1zM318 428h1v3h-1zM319 431h1v3h-1zM320 434h1v3h-1zM321 437h1v3h-1zM322 440h1v2h-1zM323 442h1v3h-1zM324 445h1v2h-1zM325 447h1v2h-1zM326 448h2v1h-2zM328 449h3v1h-3zM331 448h2v1h-2zM333 447h1v1h-1zM334 445h1v2h-1zM335 443h1v2h-1zM336 441h1v2h-1zM337 440h1v1h-1zM338 439h1v1h-1zM339 437h1v2h-1zM340 436h1v1h-1zM341 435h1v1h-1zM342 434h1v1h-1zM343 433h1v1h-1zM344 432h1v1h-1zM345 431h3v1h-3zM348 432h2v1h-2zM350 433h2v1h-2zM352 434h1v1h-1zM353 435h1v2h-1zM354 437h1v2h-1zM355 439h1v2h-1zM356 441h1v2h-1zM357 443h1v2h-1zM358 445h1v3h-1zM359 448h1v4h-1zM360 452h1v3h-1zM361 455h1v3h-1zM362 458h1v4h-1zM363 462h1v3h-1zM364 465h1v4h-1zM365 469h1v2h-1zM366 471h1v1h-1zM367 472h1v2h-1zM368 474h1v1h-1zM369 475h1v1h-1zM370 476h2v1h-2zM372 477h1v1h-1zM373 478h3v1h-3zM376 477h2v1h-2zM378 476h2v1h-2zM380 475h1v1h-1zM381 474h1v1h-1zM382 472h1v2h-1zM383 471h1v1h-1zM384 469h1v2h-1zM385 467h1v2h-1zM386 465h1v2h-1zM387 462h1v3h-1zM388 460h1v2h-1zM389 457h1v3h-1zM390 454h1v3h-1zM391 451h1v3h-1zM392 448h1v3h-1zM393 446h1v2h-1zM394 445h2v1h-2zM396 444h1v1h-1zM397 443h3v1h-3zM400 442h3v1h-3zM403 441h2v1h-2zM405 440h6v1h-6zM411 441h2v1h-2zM413 442h1v1h-1zM414 443h1v2h-1zM415 445h1v1h-1zM416 446h1v2h-1zM417 448h1v2h-1zM418 450h1v3h-1zM419 453h1v3h-1zM420 456h1v3h-1zM421 459h1v2h-1zM422 461h1v2h-1zM423 463h1v1h-1zM424 464h1v2h-1zM425 466h1v2h-1zM426 468h1v3h-1zM427 471h1v2h-1zM428 473h1v3h-1zM429 476h1v3h-1zM430 479h1v4h-1zM431 483h1v3h-1zM432 486h1v4h-1zM433 490h1v3h-1zM434 493h1v3h-1zM435 496h1v3h-1zM436 499h1v3h-1zM437 502h1v3h-1zM438 505h1v3h-1zM439 508h1v4h-1zM440 512h1v3h-1zM441 515h1v2h-1zM442 517h1v2h-1zM443 519h1v1h-1zM444 520h1v2h-1zM445 522h6v1h-6zM451 523h2v1h-2zM453 524h5v1h-5zM458 523h1v1h-1zM459 521h1v2h-1zM460 520h1v1h-1zM461 519h1v1h-1zM462 517h1v2h-1zM463 516h1v1h-1zM464 514h1v2h-1zM465 512h1v2h-1zM466 510h1v2h-1zM467 508h1v2h-1zM468 506h1v2h-1zM469 505h1v1h-1zM470 504h1v1h-1zM471 503h1v1h-1zM472 502h1v1h-1zM473 501h3v1h-3zM476 502h6v1h-6zM482 501h2v1h-2zM484 500h1v1h-1zM485 499h3v1h-3zM488 500h4v1h-4zM492 501h3v1h-3zM495 502h2v1h-2zM497 503h1v1h-1zM498 504h1v2h-1zM499 506h1v1h-1zM500 507h1v2h-1zM501 509h3v1h-3zM504 508h3v1h-3zM507 507h2v1h-2zM509 506h3v1h-3zM512 507h4v1h-4zM516 506h3v1h-3zM519 505h2v1h-2zM521 504h1v1h-1zM522 503h2v1h-2zM524 502h1v1h-1zM525 501h1v1h-1zM526 500h1v1h-1zM527 498h1v2h-1zM528 497h1v1h-1zM529 496h3v1h-3zM532 495h14v1h-14zM546 496h1v1h-1zM547 497h1v1h-1zM548 498h1v1h-1zM549 499h1v1h-1zM550 500h2v1h-2zM552 501h1v1h-1zM553 502h7v1h-7zM560 503h4v1h-4zM564 502h4v1h-4zM568 503h3v1h-3zM571 504h2v1h-2zM573 505h3v1h-3zM576 504h2v1h-2zM578 505h1v1h-1zM579 506h1v2h-1zM580 508h1v1h-1zM581 509h2v1h-2zM583 510h2v1h-2zM585 511h3v1h-3zM588 512h6v1h-6zM594 511h1v1h-1zM595 510h1v1h-1zM596 509h1v1h-1zM597 508h1v1h-1zM598 506h1v2h-1zM599 505h1v1h-1zM600 503h1v2h-1zM601 502h1v1h-1zM602 501h2v1h-2zM604 500h1v1h-1zM605 498h1v2h-1zM606 496h1v2h-1zM607 494h1v2h-1zM608 492h1v2h-1zM609 491h1v1h-1zM610 490h1v1h-1zM611 489h1v1h-1zM612 488h1v1h-1zM613 487h1v1h-1zM614 486h2v1h-2zM616 485h1v1h-1zM617 484h1v1h-1zM618 483h2v1h-2zM620 482h1v1h-1zM621 481h5v1h-5zM626 479h1v2h-1zM627 478h1v1h-1zM628 476h1v2h-1zM629 474h1v2h-1zM630 472h1v2h-1zM631 470h1v2h-1zM632 468h1v2h-1zM633 466h1v2h-1zM634 464h1v2h-1zM635 462h1v2h-1zM636 460h1v2h-1zM637 458h1v2h-1zM638 454h1v4h-1zM639 451h1v3h-1zM640 447h1v4h-1zM641 443h1v4h-1zM642 439h1v4h-1zM643 435h1v4h-1zM644 431h1v4h-1zM645 427h1v4h-1zM646 421h1v6h-1zM647 415h1v6h-1zM648 409h1v6h-1zM649 404h1v5h-1zM650 398h1v6h-1zM651 392h1v6h-1zM652 386h1v6h-1zM653 381h1v5h-1zM654 377h1v4h-1zM655 373h1v4h-1zM656 369h1v4h-1zM657 365h1v4h-1zM658 360h1v5h-1zM659 356h1v4h-1zM660 351h1v5h-1zM661 346h1v5h-1zM662 341h1v5h-1zM663 337h1v4h-1zM664 332h1v5h-1zM665 328h1v4h-1zM666 325h1v3h-1zM667 321h1v4h-1zM668 318h1v3h-1zM669 315h1v3h-1zM670 313h1v2h-1zM671 310h1v3h-1zM672 308h1v2h-1zM673 306h1v2h-1zM674 305h2v1h-2zM676 304h1v1h-1zM677 303h1v1h-1zM678 302h2v1h-2zM680 301h1v1h-1zM681 300h3v1h-3zM684 299h2v1h-2zM686 300h1v1h-1zM687 301h1v1h-1zM688 302h1v1h-1zM689 303h1v1h-1zM690 304h2v1h-2zM692 305h1v1h-1zM693 306h7v1h-7zM700 305h4v1h-4zM704 306h4v1h-4zM708 307h3v1h-3zM711 306h2v1h-2zM713 305h2v1h-2zM715 304h2v1h-2zM717 303h3v1h-3zM720 302h3v1h-3zM723 301h2v1h-2zM725 300h3v1h-3zM728 299h4v1h-4zM732 300h3v1h-3zM735 299h2v1h-2zM737 298h3v1h-3zM740 297h8v1h-8zM748 296h2v1h-2zM750 297h1v2h-1zM751 299h1v1h-1zM752 300h1v2h-1zM753 302h1v2h-1zM754 304h1v2h-1zM755 306h1v2h-1zM756 308h1v2h-1zM757 310h1v2h-1zM758 312h1v2h-1zM759 314h1v2h-1zM760 316h1v2h-1zM761 318h1v2h-1zM762 320h1v2h-1zM763 322h1v2h-1zM764 324h1v2h-1zM765 326h1v2h-1zM766 328h1v2h-1zM767 330h1v2h-1zM768 332h1v2h-1zM769 334h1v1h-1zM770 335h1v2h-1zM771 337h1v1h-1zM772 338h1v2h-1zM773 340h1v1h-1zM774 341h1v2h-1zM775 343h1v2h-1zM776 345h1v2h-1zM777 347h1v1h-1zM778 348h2v1h-2zM780 349h1v1h-1zM781 350h1v1h-1zM782 351h2v1h-2zM784 352h1v1h-1zM785 353h3v1h-3zM788 354h2v1h-2zM790 353h2v1h-2zM792 352h1v1h-1zM793 351h7v1h-7zM800 352h4v1h-4zM804 351h2v1h-2zM806 350h2v1h-2zM808 349h1v1h-1zM809 348h1v1h-1zM810 347h2v1h-2zM812 346h1v1h-1zM813 345h2v1h-2zM815 344h2v1h-2zM817 343h3v1h-3zM820 344h11v1h-11zM831 345h2v1h-2zM833 346h2v1h-2zM835 347h2v1h-2zM837 348h2v1h-2zM839 349h2v1h-2zM841 350h3v1h-3zM844 349h4v1h-4zM848 348h12v1h-12zM860 349h4v1h-4zM864 348h3v1h-3zM867 347h2v1h-2zM869 346h3v1h-3zM872 345h2v1h-2zM874 344h1v1h-1zM875 343h1v1h-1zM876 342h1v1h-1zM877 340h1v2h-1zM878 337h1v3h-1zM879 334h1v3h-1zM880 331h1v3h-1zM881 328h1v3h-1zM882 324h1v4h-1zM883 321h1v3h-1zM884 317h1v4h-1zM885 311h1v6h-1zM886 302h1v9h-1zM887 294h1v8h-1zM888 285h1v9h-1zM889 278h1v7h-1zM890 272h1v6h-1zM891 266h1v6h-1zM892 260h1v6h-1zM893 254h1v6h-1zM894 248h1v6h-1zM895 241h1v7h-1zM896 235h1v6h-1zM897 228h1v7h-1zM898 222h1v6h-1zM899 215h1v7h-1zM900 209h1v6h-1zM901 202h1v7h-1zM902 196h1v6h-1zM903 189h1v7h-1zM904 183h1v6h-1zM905 177h1v6h-1zM906 173h1v4h-1zM907 169h1v4h-1zM908 165h1v4h-1zM909 162h1v3h-1zM910 161h1v1h-1zM911 159h1v2h-1zM912 158h2v1h-2zM913 157h1v1h-1zM914 159h1v3h-1zM915 162h1v2h-1zM916 164h1v3h-1zM917 167h1v2h-1zM918 168h2v1h-2zM920 169h2v1h-2zM922 170h1v2h-1zM923 172h1v1h-1zM924 173h1v2h-1zM925 175h3v1h-3zM928 176h2v1h-2zM930 177h2v1h-2zM932 178h1v1h-1zM933 179h1v1h-1zM934 180h1v1h-1zM935 181h1v2h-1zM936 183h2v1h-2zM937 184h1v1h-1zM938 181h1v2h-1zM939 178h1v3h-1zM940 176h1v2h-1zM941 173h1v3h-1zM942 170h1v3h-1zM943 167h1v3h-1zM944 164h1v3h-1zM945 160h1v4h-1zM946 156h1v4h-1zM947 152h1v4h-1zM948 148h1v4h-1zM949 144h1v4h-1zM950 140h1v4h-1zM951 136h1v4h-1zM952 132h1v4h-1zM953 128h1v4h-1zM954 125h1v3h-1zM955 121h1v4h-1zM956 118h1v3h-1zM957 115h1v3h-1zM958 113h1v2h-1zM959 110h1v3h-1zM960 108h1v2h-1zM961 105h1v3h-1zM962 102h1v3h-1zM963 98h1v4h-1zM964 95h1v3h-1zM965 92h1v3h-1zM966 88h1v4h-1zM967 85h1v3h-1zM968 81h1v4h-1zM969 79h1v2h-1zM970 78h1v1h-1zM971 76h1v2h-1zM972 75h1v1h-1zM973 74h1v1h-1zM974 75h2v1h-2zM976 76h1v1h-1zM977 77h1v1h-1zM978 78h2v1h-2zM980 79h1v1h-1zM981 80h1v2h-1zM982 82h1v2h-1zM983 84h1v2h-1zM984 86h1v2h-1zM985 88h1v2h-1zM986 90h2v1h-2zM988 91h1v1h-1zM989 92h1v2h-1zM990 94h1v2h-1zM991 96h1v2h-1zM992 98h1v2h-1zM993 100h1v2h-1zM994 102h1v4h-1zM995 106h1v3h-1zM996 109h1v4h-1zM997 113h1v3h-1zM998 116h1v4h-1zM999 120h1v4h-1zM1000 124h1v4h-1zM1001 128h1v3h-1zM1002 131h1v4h-1zM1003 135h1v3h-1zM1004 138h1v4h-1zM1005 142h1v3h-1zM1006 145h1v3h-1zM1007 148h1v2h-1zM1008 150h1v3h-1zM1009 153h1v2h-1zM1010 154h1v1h-1zM1011 155h2v1h-2zM1013 156h1v1h-1zM1014 157h1v1h-1zM1015 158h1v2h-1zM1016 160h1v1h-1zM1017 161h5v1h-5zM1022 160h2v1h-2zM1024 159h1v1h-1zM1025 158h1v1h-1zM1026 156h1v2h-1zM1027 155h1v1h-1zM1028 153h1v2h-1zM1029 151h1v2h-1zM1030 149h1v2h-1zM1031 147h1v2h-1zM1032 145h1v2h-1zM1033 142h1v3h-1zM1034 140h1v2h-1zM1035 138h1v2h-1zM1036 136h1v2h-1zM1037 135h1v1h-1zM1038 133h1v2h-1zM1039 132h1v1h-1zM1040 130h1v2h-1zM1041 128h1v2h-1zM1042 126h1v2h-1zM1043 124h1v2h-1zM1044 122h1v2h-1zM1045 121h1v1h-1zM1046 120h1v1h-1zM1047 118h1v2h-1zM1048 117h1v1h-1zM1049 116h1v1h-1zM1050 115h1v1h-1zM1051 114h1v1h-1zM1052 113h1v1h-1zM1053 112h1v1h-1zM1054 111h1v1h-1zM1055 109h1v2h-1zM1056 108h1v1h-1zM1057 107h1v1h-1zM1058 106h2v1h-2zM1060 105h1v1h-1zM1061 104h2v1h-2zM1063 105h2v1h-2zM1065 106h2v1h-2zM1067 105h2v1h-2zM1069 104h3v1h-3zM1072 103h3v1h-3zM1075 102h2v1h-2zM1077 101h1v1h-1zM1078 102h1v2h-1zM1079 104h1v1h-1zM1080 105h1v2h-1zM1081 107h1v2h-1zM1082 109h1v2h-1zM1083 111h1v2h-1zM1084 113h1v2h-1zM1085 115h1v3h-1zM1086 118h1v2h-1zM1087 120h1v2h-1zM1088 122h1v2h-1zM1089 124h1v1h-1zM1090 125h2v1h-2zM1092 126h1v1h-1zM1093 127h1v1h-1zM1094 128h1v1h-1zM1095 129h1v2h-1zM1096 131h1v1h-1zM1097 132h1v2h-1zM1098 134h1v3h-1zM1099 137h1v2h-1zM1100 139h1v3h-1zM1101 142h1v3h-1zM1102 145h1v3h-1zM1103 148h1v2h-1zM1104 150h1v3h-1zM1105 153h1v2h-1zM1106 155h1v1h-1zM1107 156h1v1h-1zM1108 157h1v1h-1zM1109 158h7v1h-7zM1116 159h4v1h-4zM1120 160h2v1h-2zM1122 161h1v2h-1zM1123 163h1v2h-1zM1124 165h1v2h-1zM1125 167h2v1h-2zM1127 168h2v1h-2zM1129 169h3v1h-3zM1132 170h4v1h-4zM1136 171h2v1h-2z"/>
<rect x="0" y="20" width="1" height="779" fill="#000"/>
<rect x="0" y="40" width="1417" height="3" fill="#ff0000"/><rect x="1410" y="38" width="7" height="7" fill="#ff0000"/><rect x="1413" y="41" width="1" height="1" fill="#fff"/>
<rect x="0" y="39" width="2" height="5" fill="#ff0000"/>
<rect x="0" y="135" width="1417" height="3" fill="#ff0000"/><rect x="0" y="133" width="7" height="7" fill="#ff0000"/><rect x="3" y="136" width="1" height="1" fill="#fff"/><rect x="1410" y="133" width="7" height="7" fill="#ff0000"/><rect x="1413" y="136" width="1" height="1" fill="#fff"/>
<rect x="0" y="230" width="1417" height="3" fill="#00ff00"/><rect x="0" y="228" width="7" height="7" fill="#00ff00"/><rect x="3" y="231" width="1" height="1" fill="#fff"/><rect x="1410" y="228" width="7" height="7" fill="#00ff00"/><rect x="1413" y="231" width="1" height="1" fill="#fff"/>
<rect x="0" y="325" width="1417" height="3" fill="#0000ff"/><rect x="0" y="323" width="7" height="7" fill="#0000ff"/><rect x="3" y="326" width="1" height="1" fill="#fff"/><rect x="1410" y="323" width="7" height="7" fill="#0000ff"/><rect x="1413" y="326" width="1" height="1" fill="#fff"/>
<rect x="0" y="401" width="1417" height="3" fill="#0000ff"/>
<g><rect x="1" y="612" width="1" height="14" fill="#c0c0c0"/><rect x="5" y="612" width="1" height="14" fill="#c0c0c0"/><rect x="9" y="613" width="1" height="13" fill="#c0c0c0"/><rect x="13" y="613" width="1" height="13" fill="#c0c0c0"/><rect x="17" y="613" width="1" height="13" fill="#c0c0c0"/><rect x="21" y="612" width="1" height="14" fill="#c0c0c0"/><rect x="25" y="612" width="1" height="14" fill="#c0c0c0"/><rect x="29" y="612" width="1" height="14" fill="#c0c0c0"/><rect x="33" y="610" width="1" height="16" fill="#c0c0c0"/><rect x="37" y="609" width="1" height="17" fill="#c0c0c0"/><rect x="41" y="607" width="1" height="19" fill="#c0c0c0"/><rect x="45" y="610" width="1" height="16" fill="#c0c0c0"/><rect x="49" y="609" width="1" height="17" fill="#c0c0c0"/><rect x="53" y="609" width="1" height="17" fill="#c0c0c0"/><rect x="57" y="609" width="1" height="17" fill="#c0c0c0"/><rect x="61" y="609" width="1" height="17" fill="#c0c0c0"/><rect x="65" y="607" width="1" height="19" fill="#c0c0c0"/><rect x="69" y="606" width="1" height="20" fill="#c0c0c0"/><rect x="73" y="606" width="1" height="20" fill="#c0c0c0"/><rect x="77" y="606" width="1" height="20" fill="#c0c0c0"/><rect x="81" y="605" width="1" height="21" fill="#c0c0c0"/><rect x="85" y="605" width="1" height="21" fill="#c0c0c0"/><rect x="89" y="605" width="1" height="21" fill="#c0c0c0"/><rect x="93" y="603" width="1" height="23" fill="#c0c0c0"/><rect x="97" y="602" width="1" height="24" fill="#c0c0c0"/><rect x="101" y="601" width="1" height="25" fill="#c0c0c0"/><rect x="105" y="605" width="1" height="21" fill="#c0c0c0"/><rect x="109" y="611" width="1" height="15" fill="#c0c0c0"/><rect x="113" y="614" width="1" height="12" fill="#c0c0c0"/><rect x="117" y="616" width="1" height="10" fill="#c0c0c0"/><rect x="121" y="618" width="1" height="8" fill="#c0c0c0"/><rect x="125" y="618" width="1" height="8" fill="#c0c0c0"/><rect x="129" y="617" width="1" height="9" fill="#c0c0c0"/><rect x="133" y="615" width="1" height="11" fill="#c0c0c0"/><rect x="137" y="615" width="1" height="11" fill="#c0c0c0"/><rect x="141" y="616" width="1" height="10" fill="#c0c0c0"/><rect x="145" y="618" width="1" height="8" fill="#c0c0c0"/><rect x="149" y="620" width="1" height="6" fill="#c0c0c0"/><rect x="153" y="620" width="1" height="6" fill="#c0c0c0"/><rect x="157" y="620" width="1" height="6" fill="#c0c0c0"/><rect x="161" y="620" width="1" height="6" fill="#c0c0c0"/><rect x="165" y="621" width="1" height="5" fill="#c0c0c0"/><rect x="169" y="621" width="1" height="5" fill="#c0c0c0"/><rect x="173" y="620" width="1" height="6" fill="#c0c0c0"/><rect x="177" y="620" width="1" height="6" fill="#c0c0c0"/><rect x="181" y="620" width="1" height="6" fill="#c0c0c0"/><rect x="185" y="621" width="1" height="5" fill="#c0c0c0"/><rect x="189" y="620" width="1" height="6" fill="#c0c0c0"/><rect x="193" y="625" width="1" height="2" fill="#c0c0c0"/><rect x="197" y="625" width="1" height="8" fill="#c0c0c0"/><rect x="201" y="625" width="1" height="12" fill="#c0c0c0"/><rect x="205" y="625" width="1" height="13" fill="#c0c0c0"/><rect x="209" y="625" width="1" height="14" fill="#c0c0c0"/><rect x="213" y="625" width="1" height="12" fill="#c0c0c0"/><rect x="217" y="625" width="1" height="13" fill="#c0c0c0"/><rect x="221" y="625" width="1" height="14" fill="#c0c0c0"/><rect x="225" y="625" width="1" height="15" fill="#c0c0c0"/><rect x="229" y="625" width="1" height="13" fill="#c0c0c0"/><rect x="233" y="625" width="1" height="12" fill="#c0c0c0"/><rect x="237" y="625" width="1" height="12" fill="#c0c0c0"/><rect x="241" y="625" width="1" height="11" fill="#c0c0c0"/><rect x="245" y="625" width="1" height="10" fill="#c0c0c0"/><rect x="249" y="625" width="1" height="8" fill="#c0c0c0"/><rect x="253" y="625" width="1" height="7" fill="#c0c0c0"/><rect x="257" y="625" width="1" height="7" fill="#c0c0c0"/><rect x="261" y="625" width="1" height="7" fill="#c0c0c0"/><rect x="265" y="625" width="1" height="8" fill="#c0c0c0"/><rect x="269" y="625" width="1" height="9" fill="#c0c0c0"/><rect x="273" y="625" width="1" height="10" fill="#c0c0c0"/><rect x="277" y="625" width="1" height="11" fill="#c0c0c0"/><rect x="281" y="625" width="1" height="11" fill="#c0c0c0"/><rect x="285" y="625" width="1" height="10" fill="#c0c0c0"/><rect x="289" y="625" width="1" height="11" fill="#c0c0c0"/><rect x="293" y="625" width="1" height="13" fill="#c0c0c0"/><rect x="297" y="625" width="1" height="14" fill="#c0c0c0"/><rect x="301" y="625" width="1" height="18" fill="#c0c0c0"/><rect x="305" y="625" width="1" height="23" fill="#c0c0c0"/><rect x="309" y="625" width="1" height="29" fill="#c0c0c0"/><rect x="313" y="625" width="1" height="33" fill="#c0c0c0"/><rect x="317" y="625" width="1" height="35" fill="#c0c0c0"/><rect x="321" y="625" width="1" height="37" fill="#c0c0c0"/><rect x="325" y="625" width="1" height="37" fill="#c0c0c0"/><rect x="329" y="625" width="1" height="34" fill="#c0c0c0"/><rect x="333" y="625" width="1" height="32" fill="#c0c0c0"/><rect x="337" y="625" width="1" height="29" fill="#c0c0c0"/><rect x="341" y="625" width="1" height="28" fill="#c0c0c0"/><rect x="345" y="625" width="1" height="26" fill="#c0c0c0"/><rect x="349" y="625" width="1" height="28" fill="#c0c0c0"/><rect x="353" y="625" width="1" height="29" fill="#c0c0c0"/><rect x="357" y="625" width="1" height="30" fill="#c0c0c0"/><rect x="361" y="625" width="1" height="34" fill="#c0c0c0"/><rect x="365" y="625" width="1" height="37" fill="#c0c0c0"/><rect x="369" y="625" width="1" height="34" fill="#c0c0c0"/><rect x="373" y="625" width="1" height="30" fill="#c0c0c0"/><rect x="377" y="625" width="1" height="29" fill="#c0c0c0"/><rect x="381" y="625" width="1" height="25" fill="#c0c0c0"/><rect x="385" y="625" width="1" height="22" fill="#c0c0c0"/><rect x="389" y="625" width="1" height="19" fill="#c0c0c0"/><rect x="393" y="625" width="1" height="15" fill="#c0c0c0"/><rect x="397" y="625" width="1" height="15" fill="#c0c0c0"/><rect x="401" y="625" width="1" height="13" fill="#c0c0c0"/><rect x="405" y="625" width="1" height="11" fill="#c0c0c0"/><rect x="409" y="625" width="1" height="11" fill="#c0c0c0"/><rect x="413" y="625" width="1" height="11" fill="#c0c0c0"/><rect x="417" y="625" width="1" height="13" fill="#c0c0c0"/><rect x="421" y="625" width="1" height="16" fill="#c0c0c0"/><rect x="425" y="625" width="1" height="18" fill="#c0c0c0"/><rect x="429" y="625" width="1" height="21" fill="#c0c0c0"/><rect x="433" y="625" width="1" height="25" fill="#c0c0c0"/><rect x="437" y="625" width="1" height="27" fill="#c0c0c0"/><rect x="441" y="625" width="1" height="30" fill="#c0c0c0"/><rect x="445" y="625" width="1" height="30" fill="#c0c0c0"/><rect x="449" y="625" width="1" height="28" fill="#c0c0c0"/><rect x="453" y="625" width="1" height="26" fill="#c0c0c0"/><rect x="457" y="625" width="1" height="25" fill="#c0c0c0"/><rect x="461" y="625" width="1" height="24" fill="#c0c0c0"/><rect x="465" y="625" width="1" height="20" fill="#c0c0c0"/><rect x="469" y="625" width="1" height="18" fill="#c0c0c0"/><rect x="473" y="625" width="1" height="16" fill="#c0c0c0"/><rect x="477" y="625" width="1" height="16" fill="#c0c0c0"/><rect x="481" y="625" width="1" height="16" fill="#c0c0c0"/><rect x="485" y="625" width="1" height="14" fill="#c0c0c0"/><rect x="489" y="625" width="1" height="13" fill="#c0c0c0"/><rect x="493" y="625" width="1" height="12" fill="#c0c0c0"/><rect x="497" y="625" width="1" height="11" fill="#c0c0c0"/><rect x="501" y="625" width="1" height="13" fill="#c0c0c0"/><rect x="505" y="625" width="1" height="12" fill="#c0c0c0"/><rect x="509" y="625" width="1" height="10" fill="#c0c0c0"/><rect x="513" y="625" width="1" height="10" fill="#c0c0c0"/><rect x="517" y="625" width="1" height="9" fill="#c0c0c0"/><rect x="521" y="625" width="1" height="6" fill="#c0c0c0"/><rect x="525" y="625" width="1" height="4" fill="#c0c0c0"/><rect x="529" y="625" width="1" height="4" fill="#c0c0c0"/><rect x="533" y="625" width="1" height="4" fill="#c0c0c0"/><rect x="537" y="625" width="1" height="3" fill="#c0c0c0"/><rect x="541" y="625" width="1" height="4" fill="#c0c0c0"/><rect x="545" y="625" width="1" height="4" fill="#c0c0c0"/><rect x="549" y="625" width="1" height="5" fill="#c0c0c0"/><rect x="553" y="625" width="1" height="4" fill="#c0c0c0"/><rect x="557" y="625" width="1" height="4" fill="#c0c0c0"/><rect x="561" y="625" width="1" height="4" fill="#c0c0c0"/><rect x="565" y="625" width="1" height="3" fill="#c0c0c0"/><rect x="569" y="625" width="1" height="4" fill="#c0c0c0"/><rect x="573" y="625" width="1" height="5" fill="#c0c0c0"/><rect x="577" y="625" width="1" height="5" fill="#c0c0c0"/><rect x="581" y="625" width="1" height="7" fill="#c0c0c0"/><rect x="585" y="625" width="1" height="7" fill="#c0c0c0"/><rect x="589" y="625" width="1" height="6" fill="#c0c0c0"/><rect x="593" y="625" width="1" height="5" fill="#c0c0c0"/><rect x="597" y="625" width="1" height="3" fill="#c0c0c0"/><rect x="601" y="624" width="1" height="2" fill="#c0c0c0"/><rect x="605" y="623" width="1" height="3" fill="#c0c0c0"/><rect x="609" y="621" width="1" height="5" fill="#c0c0c0"/><rect x="613" y="621" width="1" height="5" fill="#c0c0c0"/><rect x="617" y="621" width="1" height="5" fill="#c0c0c0"/><rect x="621" y="620" width="1" height="6" fill="#c0c0c0"/><rect x="625" y="619" width="1" height="7" fill="#c0c0c0"/><rect x="629" y="615" width="1" height="11" fill="#c0c0c0"/><rect x="633" y="612" width="1" height="14" fill="#c0c0c0"/><rect x="637" y="608" width="1" height="18" fill="#c0c0c0"/><rect x="641" y="603" width="1" height="23" fill="#c0c0c0"/><rect x="645" y="598" width="1" height="28" fill="#c0c0c0"/><rect x="649" y="589" width="1" height="37" fill="#c0c0c0"/><rect x="653" y="584" width="1" height="42" fill="#c0c0c0"/><rect x="657" y="580" width="1" height="46" fill="#c0c0c0"/><rect x="661" y="575" width="1" height="51" fill="#c0c0c0"/><rect x="665" y="571" width="1" height="55" fill="#c0c0c0"/><rect x="669" y="570" width="1" height="56" fill="#c0c0c0"/><rect x="673" y="569" width="1" height="57" fill="#c0c0c0"/><rect x="677" y="569" width="1" height="57" fill="#c0c0c0"/><rect x="681" y="570" width="1" height="56" fill="#c0c0c0"/><rect x="685" y="573" width="1" height="53" fill="#c0c0c0"/><rect x="689" y="576" width="1" height="50" fill="#c0c0c0"/><rect x="693" y="578" width="1" height="48" fill="#c0c0c0"/><rect x="697" y="579" width="1" height="47" fill="#c0c0c0"/><rect x="701" y="580" width="1" height="46" fill="#c0c0c0"/><rect x="705" y="582" width="1" height="44" fill="#c0c0c0"/><rect x="709" y="585" width="1" height="41" fill="#c0c0c0"/><rect x="713" y="587" width="1" height="39" fill="#c0c0c0"/><rect x="717" y="589" width="1" height="37" fill="#c0c0c0"/><rect x="721" y="591" width="1" height="35" fill="#c0c0c0"/><rect x="725" y="592" width="1" height="34" fill="#c0c0c0"/><rect x="729" y="592" width="1" height="34" fill="#c0c0c0"/><rect x="733" y="595" width="1" height="31" fill="#c0c0c0"/><rect x="737" y="597" width="1" height="29" fill="#c0c0c0"/><rect x="741" y="599" width="1" height="27" fill="#c0c0c0"/><rect x="745" y="600" width="1" height="26" fill="#c0c0c0"/><rect x="749" y="602" width="1" height="24" fill="#c0c0c0"/><rect x="753" y="606" width="1" height="20" fill="#c0c0c0"/><rect x="757" y="610" width="1" height="16" fill="#c0c0c0"/><rect x="761" y="616" width="1" height="10" fill="#c0c0c0"/><rect x="765" y="620" width="1" height="6" fill="#c0c0c0"/><rect x="769" y="623" width="1" height="3" fill="#c0c0c0"/><rect x="773" y="624" width="1" height="2" fill="#c0c0c0"/><rect x="777" y="625" width="1" height="1" fill="#c0c0c0"/><rect x="781" y="625" width="1" height="3" fill="#c0c0c0"/><rect x="785" y="625" width="1" height="4" fill="#c0c0c0"/><rect x="789" y="625" width="1" height="7" fill="#c0c0c0"/><rect x="793" y="625" width="1" height="6" fill="#c0c0c0"/><rect x="797" y="625" width="1" height="6" fill="#c0c0c0"/><rect x="801" y="625" width="1" height="6" fill="#c0c0c0"/><rect x="805" y="625" width="1" height="5" fill="#c0c0c0"/><rect x="809" y="625" width="1" height="4" fill="#c0c0c0"/><rect x="813" y="625" width="1" height="3" fill="#c0c0c0"/><rect x="817" y="625" width="1" height="4" fill="#c0c0c0"/><rect x="821" y="625" width="1" height="4" fill="#c0c0c0"/><rect x="825" y="625" width="1" height="4" fill="#c0c0c0"/><rect x="829" y="625" width="1" height="5" fill="#c0c0c0"/><rect x="833" y="625" width="1" height="4" fill="#c0c0c0"/><rect x="837" y="625" width="1" height="5" fill="#c0c0c0"/><rect x="841" y="625" width="1" height="5" fill="#c0c0c0"/><rect x="845" y="625" width="1" height="4" fill="#c0c0c0"/><rect x="849" y="625" width="1" height="4" fill="#c0c0c0"/><rect x="853" y="625" width="1" height="3" fill="#c0c0c0"/><rect x="857" y="625" width="1" height="4" fill="#c0c0c0"/><rect x="861" y="625" width="1" height="4" fill="#c0c0c0"/><rect x="865" y="625" width="1" height="4" fill="#c0c0c0"/><rect x="869" y="625" width="1" height="2" fill="#c0c0c0"/><rect x="873" y="625" width="1" height="2" fill="#c0c0c0"/><rect x="877" y="623" width="1" height="3" fill="#c0c0c0"/><rect x="881" y="617" width="1" height="9" fill="#c0c0c0"/><rect x="885" y="611" width="1" height="15" fill="#c0c0c0"/><rect x="889" y="595" width="1" height="31" fill="#c0c0c0"/><rect x="893" y="588" width="1" height="38" fill="#c0c0c0"/><rect x="897" y="581" width="1" height="45" fill="#c0c0c0"/><rect x="901" y="576" width="1" height="50" fill="#c0c0c0"/><rect x="905" y="572" width="1" height="54" fill="#c0c0c0"/><rect x="909" y="569" width="1" height="57" fill="#c0c0c0"/><rect x="913" y="574" width="1" height="52" fill="#c0c0c0"/><rect x="917" y="576" width="1" height="50" fill="#c0c0c0"/><rect x="921" y="578" width="1" height="48" fill="#c0c0c0"/><rect x="925" y="580" width="1" height="46" fill="#c0c0c0"/><rect x="929" y="580" width="1" height="46" fill="#c0c0c0"/><rect x="933" y="581" width="1" height="45" fill="#c0c0c0"/><rect x="937" y="583" width="1" height="43" fill="#c0c0c0"/><rect x="941" y="582" width="1" height="44" fill="#c0c0c0"/><rect x="945" y="579" width="1" height="47" fill="#c0c0c0"/><rect x="949" y="574" width="1" height="52" fill="#c0c0c0"/><rect x="953" y="571" width="1" height="55" fill="#c0c0c0"/><rect x="957" y="569" width="1" height="57" fill="#c0c0c0"/><rect x="961" y="571" width="1" height="55" fill="#c0c0c0"/><rect x="965" y="570" width="1" height="56" fill="#c0c0c0"/><rect x="969" y="569" width="1" height="57" fill="#c0c0c0"/><rect x="973" y="569" width="1" height="57" fill="#c0c0c0"/><rect x="977" y="573" width="1" height="53" fill="#c0c0c0"/><rect x="981" y="577" width="1" height="49" fill="#c0c0c0"/><rect x="985" y="583" width="1" height="43" fill="#c0c0c0"/><rect x="989" y="587" width="1" height="39" fill="#c0c0c0"/><rect x="993" y="592" width="1" height="34" fill="#c0c0c0"/><rect x="997" y="597" width="1" height="29" fill="#c0c0c0"/><rect x="1001" y="604" width="1" height="22" fill="#c0c0c0"/><rect x="1005" y="611" width="1" height="15" fill="#c0c0c0"/><rect x="1009" y="616" width="1" height="10" fill="#c0c0c0"/><rect x="1013" y="617" width="1" height="9" fill="#c0c0c0"/><rect x="1017" y="618" width="1" height="8" fill="#c0c0c0"/><rect x="1021" y="618" width="1" height="8" fill="#c0c0c0"/><rect x="1025" y="617" width="1" height="9" fill="#c0c0c0"/><rect x="1029" y="617" width="1" height="9" fill="#c0c0c0"/><rect x="1033" y="617" width="1" height="9" fill="#c0c0c0"/><rect x="1037" y="616" width="1" height="10" fill="#c0c0c0"/><rect x="1041" y="615" width="1" height="11" fill="#c0c0c0"/><rect x="1045" y="612" width="1" height="14" fill="#c0c0c0"/><rect x="1049" y="611" width="1" height="15" fill="#c0c0c0"/><rect x="1053" y="610" width="1" height="16" fill="#c0c0c0"/><rect x="1057" y="609" width="1" height="17" fill="#c0c0c0"/><rect x="1061" y="610" width="1" height="16" fill="#c0c0c0"/><rect x="1065" y="612" width="1" height="14" fill="#c0c0c0"/><rect x="1069" y="613" width="1" height="13" fill="#c0c0c0"/><rect x="1073" y="611" width="1" height="15" fill="#c0c0c0"/><rect x="1077" y="610" width="1" height="16" fill="#c0c0c0"/><rect x="1081" y="613" width="1" height="13" fill="#c0c0c0"/><rect x="1085" y="619" width="1" height="7" fill="#c0c0c0"/><rect x="1089" y="623" width="1" height="3" fill="#c0c0c0"/><rect x="1093" y="625" width="1" height="1" fill="#c0c0c0"/><rect x="1097" y="625" width="1" height="2" fill="#c0c0c0"/><rect x="1101" y="625" width="1" height="4" fill="#c0c0c0"/><rect x="1105" y="625" width="1" height="6" fill="#c0c0c0"/><rect x="1109" y="625" width="1" height="8" fill="#c0c0c0"/><rect x="1113" y="625" width="1" height="9" fill="#c0c0c0"/><rect x="1117" y="625" width="1" height="11" fill="#c0c0c0"/><rect x="1121" y="625" width="1" height="11" fill="#c0c0c0"/><rect x="1125" y="625" width="1" height="13" fill="#c0c0c0"/><rect x="1129" y="625" width="1" height="13" fill="#c0c0c0"/><rect x="1133" y="625" width="1" height="13" fill="#c0c0c0"/><rect x="1137" y="625" width="1" height="13" fill="#c0c0c0"/></g>
<path fill="#ff0000" d="M1 613h3v1h-3zM7 613h3v1h-3zM13 613h3v1h-3zM19 613h3v1h-3zM25 613h3v1h-3zM31 612h3v1h-3zM37 612h3v1h-3zM43 611h3v1h-3zM49 611h3v1h-3zM55 610h3v1h-3zM61 609h3v1h-3zM67 609h1v1h-1zM68 608h2v1h-2zM73 608h3v1h-3zM79 608h1v1h-1zM80 607h2v1h-2zM85 607h3v1h-3zM91 606h3v1h-3zM97 605h3v1h-3zM103 604h3v1h-3zM109 605h3v1h-3zM115 606h1v1h-1zM116 607h2v1h-2zM121 608h2v1h-2zM123 609h1v1h-1zM127 610h1v1h-1zM128 611h2v1h-2zM133 613h3v1h-3zM139 615h2v1h-2zM141 616h1v1h-1zM145 616h3v1h-3zM151 617h3v1h-3zM157 618h3v1h-3zM163 618h3v1h-3zM169 619h3v1h-3zM175 619h1v1h-1zM176 620h2v1h-2zM181 620h3v1h-3zM187 620h3v1h-3zM193 621h3v1h-3zM199 623h2v1h-2zM201 624h1v1h-1zM205 626h2v1h-2zM207 627h1v1h-1zM211 629h2v1h-2zM213 630h1v1h-1zM217 632h3v1h-3zM223 634h1v1h-1zM224 635h1v1h-1zM225 636h1v1h-1zM229 637h3v1h-3zM235 637h3v1h-3zM241 637h3v1h-3zM247 636h3v1h-3zM253 635h3v1h-3zM259 634h3v1h-3zM265 633h3v1h-3zM271 633h1v1h-1zM272 632h2v1h-2zM277 633h3v1h-3zM283 633h3v1h-3zM289 633h3v1h-3zM295 634h1v1h-1zM296 635h2v1h-2zM301 636h2v1h-2zM303 637h1v1h-1zM307 639h2v1h-2zM309 640h1v1h-1zM313 642h1v1h-1zM314 643h2v1h-2zM319 646h1v1h-1zM320 647h1v1h-1zM321 648h1v1h-1zM325 651h2v1h-2zM327 652h1v1h-1zM331 654h2v1h-2zM333 655h1v1h-1zM337 656h3v1h-3zM343 656h3v1h-3zM349 656h3v1h-3zM355 655h1v1h-1zM356 654h2v1h-2zM361 654h3v1h-3zM367 654h1v1h-1zM368 655h2v1h-2zM373 655h3v1h-3zM379 655h3v1h-3zM385 654h3v1h-3zM391 652h2v1h-2zM393 651h1v1h-1zM397 649h1v1h-1zM398 648h2v1h-2zM403 645h2v1h-2zM405 644h1v1h-1zM409 642h2v1h-2zM411 641h1v1h-1zM415 639h2v1h-2zM417 638h1v1h-1zM421 638h3v1h-3zM427 638h3v1h-3zM433 639h2v1h-2zM435 640h1v1h-1zM439 642h2v1h-2zM441 643h1v1h-1zM445 645h2v1h-2zM447 646h1v1h-1zM451 648h2v1h-2zM453 649h1v1h-1zM457 650h3v1h-3zM463 650h3v1h-3zM469 649h3v1h-3zM475 647h2v1h-2zM477 646h1v1h-1zM481 645h2v1h-2zM483 644h1v1h-1zM487 643h1v1h-1zM488 642h2v1h-2zM493 640h3v1h-3zM499 639h1v1h-1zM500 638h2v1h-2zM505 638h3v1h-3zM511 637h1v1h-1zM512 636h2v1h-2zM517 636h3v1h-3zM523 635h1v1h-1zM524 634h2v1h-2zM529 633h3v1h-3zM535 632h1v1h-1zM536 631h2v1h-2zM541 630h3v1h-3zM547 629h3v1h-3zM553 628h3v1h-3zM559 628h3v1h-3zM565 628h3v1h-3zM571 628h3v1h-3zM577 628h3v1h-3zM583 628h1v1h-1zM584 629h2v1h-2zM589 629h3v1h-3zM595 629h3v1h-3zM601 628h3v1h-3zM607 628h1v1h-1zM608 627h2v1h-2zM613 626h3v1h-3zM619 625h1v1h-1zM620 624h2v1h-2zM625 623h2v1h-2zM627 622h1v1h-1zM631 621h1v1h-1zM632 620h2v1h-2zM637 618h2v1h-2zM639 617h1v1h-1zM643 615h1v1h-1zM644 614h1v1h-1zM645 613h1v1h-1zM649 610h1v1h-1zM650 609h1v1h-1zM651 608h1v1h-1zM654 604h1v1h-1zM655 603h1v1h-1zM656 602h1v1h-1zM659 598h1v1h-1zM660 597h1v1h-1zM661 596h1v1h-1zM664 592h1v1h-1zM665 591h1v1h-1zM666 590h1v1h-1zM670 586h1v1h-1zM671 584h1v2h-1zM675 580h1v1h-1zM676 579h1v1h-1zM677 578h1v1h-1zM681 575h3v1h-3zM687 574h1v1h-1zM688 573h2v1h-2zM693 572h3v1h-3zM699 573h1v1h-1zM700 574h2v1h-2zM705 575h2v1h-2zM707 576h1v1h-1zM711 578h2v1h-2zM713 579h1v1h-1zM717 581h2v1h-2zM719 582h1v1h-1zM723 584h2v1h-2zM725 585h1v1h-1zM729 587h3v1h-3zM735 589h2v1h-2zM737 590h1v1h-1zM741 592h2v1h-2zM743 593h1v1h-1zM747 594h1v1h-1zM748 595h2v1h-2zM753 597h2v1h-2zM755 598h1v1h-1zM759 600h1v1h-1zM760 601h1v1h-1zM761 602h1v1h-1zM765 605h1v1h-1zM766 606h2v1h-2zM771 609h1v1h-1zM772 610h1v1h-1zM773 611h1v1h-1zM777 614h1v1h-1zM778 615h2v1h-2zM783 618h1v1h-1zM784 619h1v1h-1zM785 620h1v1h-1zM789 623h2v1h-2zM791 624h1v1h-1zM795 625h1v1h-1zM796 626h2v1h-2zM801 627h3v1h-3zM807 628h1v1h-1zM808 629h2v1h-2zM813 629h3v1h-3zM819 629h3v1h-3zM825 629h3v1h-3zM831 629h1v1h-1zM832 628h2v1h-2zM837 628h3v1h-3zM843 628h3v1h-3zM849 628h3v1h-3zM855 628h3v1h-3zM861 628h3v1h-3zM867 628h3v1h-3zM873 627h3v1h-3zM879 627h1v1h-1zM880 626h2v1h-2zM885 624h1v1h-1zM886 623h1v1h-1zM887 622h1v1h-1zM891 618h1v1h-1zM892 617h1v1h-1zM893 616h1v1h-1zM896 612h1v1h-1zM897 611h1v1h-1zM898 610h1v1h-1zM900 606h1v1h-1zM901 605h1v1h-1zM902 604h1v1h-1zM904 600h1v1h-1zM905 599h1v1h-1zM906 598h1v1h-1zM908 594h1v1h-1zM909 593h1v1h-1zM910 592h1v1h-1zM912 588h1v1h-1zM913 587h1v1h-1zM914 586h1v1h-1zM917 582h1v1h-1zM918 581h2v1h-2zM923 578h2v1h-2zM925 577h1v1h-1zM929 576h3v1h-3zM935 576h1v1h-1zM936 577h2v1h-2zM941 578h3v1h-3zM947 579h3v1h-3zM953 579h3v1h-3zM959 578h1v1h-1zM960 577h2v1h-2zM965 576h2v1h-2zM967 575h1v1h-1zM971 574h1v1h-1zM972 573h2v1h-2zM977 572h3v1h-3zM983 571h1v1h-1zM984 572h2v1h-2zM989 574h1v1h-1zM990 575h2v1h-2zM995 578h1v1h-1zM996 579h1v1h-1zM997 580h1v1h-1zM1001 584h1v1h-1zM1002 585h1v1h-1zM1003 586h1v1h-1zM1007 590h1v2h-1zM1008 592h1v1h-1zM1011 596h1v1h-1zM1012 597h1v1h-1zM1013 598h1v1h-1zM1016 602h1v1h-1zM1017 603h1v1h-1zM1018 604h1v1h-1zM1022 608h2v1h-2zM1024 609h1v1h-1zM1028 612h1v1h-1zM1029 613h2v1h-2zM1034 615h2v1h-2zM1036 616h1v1h-1zM1040 617h3v1h-3zM1046 616h3v1h-3zM1052 615h3v1h-3zM1058 614h2v1h-2zM1060 613h1v1h-1zM1064 612h3v1h-3zM1070 612h2v1h-2zM1072 611h1v1h-1zM1076 611h3v1h-3zM1082 611h2v1h-2zM1084 612h1v1h-1zM1088 613h3v1h-3zM1094 615h1v1h-1zM1095 616h2v1h-2zM1100 618h1v1h-1zM1101 619h2v1h-2zM1106 621h1v1h-1zM1107 622h2v1h-2zM1112 625h1v1h-1zM1113 626h2v1h-2zM1118 628h1v1h-1zM1119 629h2v1h-2zM1124 631h3v1h-3zM1130 633h2v1h-2zM1132 634h1v1h-1zM1136 635h2v1h-2z"/>
<path fill="#1e90ff" d="M1 724h5v1h-5zM6 725h1v1h-1zM7 726h1v1h-1zM8 727h1v1h-1zM9 728h1v1h-1zM10 727h1v1h-1zM11 726h1v1h-1zM12 725h1v1h-1zM13 724h1v1h-1zM14 725h2v1h-2zM16 726h1v1h-1zM17 727h1v1h-1zM18 726h1v1h-1zM19 724h1v2h-1zM20 723h1v1h-1zM21 722h2v1h-2zM23 723h2v1h-2zM25 724h3v1h-3zM28 723h2v1h-2zM30 721h1v2h-1zM31 719h1v2h-1zM32 717h1v2h-1zM33 716h1v1h-1zM34 717h1v1h-1zM35 718h1v2h-1zM36 720h1v1h-1zM37 721h1v1h-1zM38 720h1v1h-1zM39 718h1v2h-1zM40 717h2v1h-2zM41 716h1v1h-1zM41 718h1v1h-1zM42 719h1v4h-1zM43 723h1v4h-1zM44 727h1v4h-1zM45 731h1v3h-1zM46 730h1v2h-1zM47 727h1v3h-1zM48 725h1v2h-1zM49 723h3v1h-3zM49 724h1v1h-1zM52 724h2v1h-2zM54 725h2v1h-2zM56 726h1v1h-1zM57 727h1v1h-1zM58 726h1v1h-1zM59 725h1v1h-1zM60 724h1v1h-1zM61 723h1v1h-1zM62 722h1v1h-1zM63 721h1v1h-1zM64 720h1v1h-1zM65 719h2v1h-2zM67 720h2v1h-2zM69 721h3v1h-3zM72 720h4v1h-4zM76 721h3v1h-3zM79 720h2v1h-2zM81 719h3v1h-3zM84 718h6v1h-6zM90 716h1v2h-1zM91 715h1v1h-1zM92 713h1v2h-1zM93 712h3v1h-3zM96 713h4v1h-4zM100 712h2v1h-2zM101 713h1v2h-1zM102 715h1v6h-1zM103 721h1v5h-1zM104 726h1v6h-1zM105 732h1v4h-1zM106 736h1v2h-1zM107 738h1v2h-1zM108 740h1v2h-1zM109 742h1v2h-1zM110 741h1v2h-1zM111 739h1v2h-1zM112 737h1v2h-1zM113 736h3v1h-3zM116 735h4v1h-4zM120 734h2v1h-2zM122 733h1v1h-1zM123 731h1v2h-1zM124 730h1v1h-1zM125 729h1v1h-1zM126 728h2v1h-2zM128 727h1v1h-1zM129 726h1v1h-1zM130 725h1v1h-1zM131 723h1v2h-1zM132 722h2v1h-2zM133 721h1v1h-1zM134 723h1v2h-1zM135 725h1v2h-1zM136 727h1v2h-1zM137 729h3v1h-3zM140 730h2v1h-2zM142 731h1v1h-1zM143 732h1v1h-1zM144 733h1v1h-1zM145 734h1v1h-1zM146 735h2v1h-2zM148 736h1v1h-1zM149 737h1v1h-1zM150 735h1v2h-1zM151 733h1v2h-1zM152 731h1v2h-1zM153 730h3v1h-3zM156 729h2v1h-2zM158 730h1v1h-1zM159 731h1v1h-1zM160 732h1v1h-1zM161 733h3v1h-3zM164 734h2v1h-2zM166 732h1v2h-1zM167 731h1v1h-1zM168 729h1v2h-1zM169 728h6v1h-6zM175 727h2v1h-2zM177 726h1v1h-1zM178 727h1v1h-1zM179 728h1v2h-1zM180 730h1v1h-1zM181 731h1v1h-1zM182 732h2v1h-2zM184 733h1v1h-1zM185 734h1v1h-1zM186 732h1v2h-1zM187 731h1v1h-1zM188 729h1v2h-1zM189 728h1v3h-1zM190 731h1v6h-1zM191 737h1v6h-1zM192 743h1v6h-1zM193 749h1v3h-1zM194 752h1v1h-1zM195 753h1v1h-1zM196 754h1v1h-1zM197 755h1v1h-1zM198 754h1v1h-1zM199 752h1v2h-1zM200 751h1v1h-1zM201 750h1v1h-1zM202 749h1v1h-1zM203 747h1v2h-1zM204 746h1v1h-1zM205 745h3v1h-3zM208 744h2v1h-2zM209 743h1v1h-1zM210 741h1v2h-1zM211 738h1v3h-1zM212 736h1v2h-1zM213 734h1v2h-1zM214 735h1v2h-1zM215 737h1v1h-1zM216 738h1v2h-1zM217 740h1v1h-1zM218 741h1v1h-1zM219 742h1v2h-1zM220 744h1v1h-1zM221 745h1v1h-1zM222 744h2v1h-2zM224 743h1v1h-1zM225 742h1v1h-1zM226 740h1v2h-1zM227 739h1v1h-1zM228 737h1v2h-1zM229 736h3v1h-3zM232 737h3v1h-3zM235 738h2v1h-2zM237 739h1v1h-1zM238 738h1v1h-1zM239 737h1v1h-1zM240 736h1v1h-1zM241 735h2v1h-2zM243 736h2v1h-2zM245 737h1v1h-1zM246 735h1v2h-1zM247 733h1v2h-1zM248 731h1v2h-1zM249 730h1v1h-1zM250 731h1v1h-1zM251 732h1v2h-1zM252 734h1v1h-1zM253 735h2v1h-2zM255 736h2v1h-2zM257 737h5v1h-5zM262 738h1v2h-1zM263 740h1v1h-1zM264 741h1v2h-1zM265 743h1v1h-1zM266 742h2v1h-2zM268 741h1v1h-1zM269 740h1v1h-1zM270 741h1v1h-1zM271 742h1v1h-1zM272 743h1v1h-1zM273 744h3v1h-3zM276 745h2v1h-2zM278 743h1v2h-1zM279 742h1v1h-1zM280 740h1v2h-1zM281 739h5v1h-5zM286 740h1v1h-1zM287 741h1v2h-1zM288 743h1v1h-1zM289 744h1v1h-1zM290 745h1v2h-1zM291 747h1v1h-1zM292 748h1v2h-1zM293 750h1v1h-1zM294 749h2v1h-2zM296 748h2v1h-2zM297 747h1v1h-1zM298 749h1v3h-1zM299 752h1v2h-1zM300 754h1v3h-1zM301 757h1v2h-1zM302 759h2v1h-2zM304 760h1v1h-1zM305 761h1v1h-1zM306 762h1v1h-1zM307 763h1v2h-1zM308 765h1v1h-1zM309 766h5v1h-5zM314 765h1v1h-1zM315 763h1v2h-1zM316 762h1v1h-1zM317 761h2v1h-2zM319 762h3v1h-3zM321 763h1v1h-1zM322 760h1v2h-1zM323 758h1v2h-1zM324 756h1v2h-1zM325 753h1v3h-1zM326 751h1v2h-1zM327 748h1v3h-1zM328 746h1v2h-1zM329 744h3v1h-3zM329 745h1v1h-1zM332 745h2v1h-2zM334 744h1v1h-1zM335 742h1v2h-1zM336 741h1v1h-1zM337 740h1v1h-1zM338 741h1v2h-1zM339 743h1v1h-1zM340 744h1v2h-1zM341 746h2v1h-2zM343 745h3v1h-3zM345 744h1v1h-1zM346 746h1v2h-1zM347 748h1v3h-1zM348 751h1v2h-1zM349 753h1v2h-1zM350 754h2v1h-2zM352 753h3v1h-3zM355 754h2v1h-2zM357 755h1v1h-1zM358 756h1v2h-1zM359 758h1v2h-1zM360 760h1v2h-1zM361 762h3v1h-3zM364 761h2v1h-2zM365 759h1v2h-1zM366 755h1v4h-1zM367 751h1v4h-1zM368 747h1v4h-1zM369 744h1v3h-1zM370 742h1v2h-1zM371 740h1v2h-1zM372 738h1v2h-1zM373 737h1v1h-1zM374 738h1v1h-1zM375 739h1v2h-1zM376 741h1v1h-1zM377 742h1v1h-1zM378 741h1v1h-1zM379 740h1v1h-1zM380 739h1v1h-1zM381 738h1v1h-1zM382 737h1v1h-1zM383 736h1v1h-1zM384 735h1v1h-1zM385 734h3v1h-3zM388 735h2v1h-2zM390 734h1v1h-1zM391 733h1v1h-1zM392 732h1v1h-1zM393 731h1v1h-1zM394 732h1v2h-1zM395 734h1v2h-1zM396 736h1v2h-1zM397 738h1v1h-1zM398 737h1v1h-1zM399 736h1v1h-1zM400 735h1v1h-1zM401 734h2v1h-2zM403 735h2v1h-2zM405 736h2v1h-2zM407 737h2v1h-2zM409 738h3v1h-3zM412 737h2v1h-2zM413 738h1v1h-1zM414 739h1v2h-1zM415 741h1v2h-1zM416 743h1v2h-1zM417 745h1v2h-1zM418 747h1v2h-1zM419 749h1v1h-1zM420 750h1v2h-1zM421 752h1v1h-1zM422 751h1v1h-1zM423 750h1v1h-1zM424 749h1v1h-1zM425 748h1v1h-1zM426 749h1v1h-1zM427 750h1v1h-1zM428 751h1v1h-1zM429 752h1v1h-1zM430 753h1v1h-1zM431 754h1v1h-1zM432 755h1v1h-1zM433 756h7v1h-7zM440 757h2v1h-2zM442 755h1v2h-1zM443 753h1v2h-1zM444 751h1v2h-1zM445 749h1v2h-1zM446 747h1v2h-1zM447 745h1v2h-1zM448 743h1v2h-1zM449 742h1v1h-1zM450 743h2v1h-2zM452 744h1v1h-1zM453 745h5v1h-5zM458 744h1v1h-1zM459 743h1v1h-1zM460 742h1v1h-1zM461 741h1v1h-1zM462 739h1v2h-1zM463 738h1v1h-1zM464 736h1v2h-1zM465 735h3v1h-3zM468 736h4v1h-4zM472 737h2v1h-2zM474 738h1v2h-1zM475 740h1v1h-1zM476 741h1v2h-1zM477 743h3v1h-3zM480 744h2v1h-2zM482 742h1v2h-1zM483 740h1v2h-1zM484 738h1v2h-1zM485 737h1v1h-1zM486 738h2v1h-2zM488 739h1v1h-1zM489 740h1v1h-1zM490 739h2v1h-2zM492 738h1v1h-1zM493 737h3v1h-3zM496 738h2v1h-2zM497 739h1v1h-1zM498 740h1v3h-1zM499 743h1v2h-1zM500 745h1v3h-1zM501 748h1v2h-1zM502 745h1v3h-1zM503 742h1v3h-1zM504 739h1v3h-1zM505 737h1v2h-1zM506 736h1v1h-1zM507 735h1v1h-1zM508 734h1v1h-1zM509 733h1v1h-1zM510 734h1v1h-1zM511 735h1v1h-1zM512 736h1v1h-1zM513 737h1v1h-1zM514 736h2v1h-2zM516 735h1v1h-1zM517 734h1v1h-1zM518 733h1v1h-1zM519 731h1v2h-1zM520 730h1v1h-1zM521 729h5v1h-5zM526 730h1v1h-1zM527 731h1v2h-1zM528 733h1v1h-1zM529 734h3v1h-3zM532 735h3v1h-3zM535 734h2v1h-2zM537 733h1v1h-1zM538 734h1v1h-1zM539 735h1v2h-1zM540 737h1v1h-1zM541 738h3v1h-3zM544 737h2v1h-2zM546 738h2v1h-2zM548 739h1v1h-1zM549 740h1v1h-1zM550 739h1v1h-1zM551 737h1v2h-1zM552 736h1v1h-1zM553 735h7v1h-7zM560 734h2v1h-2zM562 733h2v1h-2zM564 732h2v1h-2zM565 731h1v1h-1zM566 733h1v2h-1zM567 735h1v2h-1zM568 737h1v2h-1zM569 739h1v2h-1zM570 740h1v1h-1zM571 741h2v1h-2zM573 742h1v1h-1zM574 740h1v2h-1zM575 739h1v1h-1zM576 737h1v2h-1zM577 736h1v2h-1zM578 738h1v4h-1zM579 742h1v3h-1zM580 745h1v4h-1zM581 749h1v2h-1zM582 746h1v3h-1zM583 742h1v4h-1zM584 739h1v3h-1zM585 737h1v2h-1zM586 736h2v1h-2zM588 735h1v1h-1zM589 734h1v1h-1zM590 733h1v1h-1zM591 731h1v2h-1zM592 730h1v1h-1zM593 729h2v1h-2zM595 728h2v1h-2zM597 727h1v1h-1zM598 726h1v1h-1zM599 724h1v2h-1zM600 723h1v1h-1zM601 722h1v1h-1zM602 723h1v1h-1zM603 724h1v2h-1zM604 726h1v1h-1zM605 727h3v1h-3zM608 726h4v1h-4zM612 727h2v1h-2zM614 728h2v1h-2zM616 729h1v1h-1zM617 730h1v1h-1zM618 728h1v2h-1zM619 726h1v2h-1zM620 724h1v2h-1zM621 723h1v1h-1zM622 724h1v1h-1zM623 725h1v2h-1zM624 727h2v1h-2zM625 728h1v1h-1zM626 723h1v4h-1zM627 719h1v4h-1zM628 715h1v4h-1zM629 713h1v2h-1zM630 713h1v1h-1zM631 712h2v1h-2zM633 711h2v1h-2zM635 710h2v1h-2zM637 709h1v1h-1zM638 707h1v2h-1zM639 705h1v2h-1zM640 703h1v2h-1zM641 702h3v1h-3zM644 701h2v1h-2zM645 700h1v1h-1zM646 698h1v2h-1zM647 696h1v2h-1zM648 694h1v2h-1zM649 692h1v2h-1zM650 693h1v2h-1zM651 695h1v1h-1zM652 696h1v2h-1zM653 698h3v1h-3zM656 697h2v1h-2zM658 696h2v1h-2zM660 695h1v1h-1zM661 694h3v1h-3zM664 693h2v1h-2zM666 694h1v1h-1zM667 695h1v2h-1zM668 697h1v1h-1zM669 698h1v1h-1zM670 699h2v1h-2zM672 700h1v1h-1zM673 701h3v1h-3zM676 700h2v1h-2zM678 701h1v1h-1zM679 702h1v1h-1zM680 703h1v1h-1zM681 704h1v1h-1zM682 705h1v2h-1zM683 707h1v1h-1zM684 708h1v2h-1zM685 710h2v1h-2zM687 711h2v1h-2zM689 712h2v1h-2zM691 711h2v1h-2zM693 710h2v1h-2zM695 709h2v1h-2zM697 708h2v1h-2zM699 707h2v1h-2zM701 706h1v1h-1zM702 707h2v1h-2zM704 708h1v1h-1zM705 709h1v1h-1zM706 710h1v2h-1zM707 712h1v2h-1zM708 714h1v2h-1zM709 716h2v1h-2zM711 715h2v1h-2zM713 714h3v1h-3zM716 713h6v1h-6zM722 712h1v1h-1zM723 711h1v1h-1zM724 710h1v1h-1zM725 709h5v1h-5zM729 710h1v1h-1zM730 711h1v2h-1zM731 713h1v3h-1zM732 716h1v2h-1zM733 718h1v2h-1zM734 719h6v1h-6zM740 718h3v1h-3zM743 717h2v1h-2zM745 716h3v1h-3zM748 717h2v1h-2zM749 718h1v2h-1zM750 720h1v5h-1zM751 725h1v5h-1zM752 730h1v5h-1zM753 735h1v3h-1zM754 737h2v1h-2zM756 738h2v1h-2zM757 739h1v1h-1zM758 740h1v3h-1zM759 743h1v3h-1zM760 746h1v3h-1zM761 749h3v1h-3zM761 750h1v1h-1zM764 748h1v1h-1zM765 747h1v1h-1zM766 746h1v1h-1zM767 744h1v2h-1zM768 743h1v1h-1zM769 742h1v1h-1zM770 741h1v1h-1zM771 739h1v2h-1zM772 738h1v1h-1zM773 737h3v1h-3zM776 738h2v1h-2zM778 739h1v1h-1zM779 740h1v2h-1zM780 742h1v1h-1zM781 743h3v1h-3zM784 744h2v1h-2zM786 745h1v1h-1zM787 746h1v1h-1zM788 747h2v1h-2zM789 748h1v1h-1zM790 744h1v3h-1zM791 741h1v3h-1zM792 738h1v3h-1zM793 736h3v1h-3zM793 737h1v1h-1zM796 737h3v1h-3zM799 738h3v1h-3zM801 739h1v1h-1zM802 736h1v2h-1zM803 734h1v2h-1zM804 732h1v2h-1zM805 730h1v2h-1zM806 731h2v1h-2zM808 732h1v1h-1zM809 733h1v1h-1zM810 732h2v1h-2zM812 731h2v1h-2zM813 730h1v1h-1zM814 732h1v2h-1zM815 734h1v3h-1zM816 737h1v2h-1zM817 739h1v2h-1zM818 740h1v1h-1zM819 739h2v1h-2zM821 738h2v1h-2zM823 737h2v1h-2zM825 736h1v1h-1zM826 737h2v1h-2zM828 738h1v1h-1zM829 739h1v1h-1zM830 738h1v1h-1zM831 737h1v1h-1zM832 736h1v1h-1zM833 735h2v1h-2zM835 736h2v1h-2zM837 737h3v1h-3zM840 738h2v1h-2zM842 737h1v1h-1zM843 736h1v1h-1zM844 735h1v1h-1zM845 734h7v1h-7zM852 733h2v1h-2zM854 734h1v2h-1zM855 736h1v1h-1zM856 737h1v2h-1zM857 739h3v1h-3zM860 740h2v1h-2zM862 738h1v2h-1zM863 736h1v2h-1zM864 734h1v2h-1zM865 733h1v1h-1zM866 731h1v2h-1zM867 730h1v1h-1zM868 728h1v2h-1zM869 727h2v1h-2zM871 728h3v1h-3zM873 729h1v1h-1zM874 726h1v2h-1zM875 723h1v3h-1zM876 721h1v2h-1zM877 717h1v4h-1zM878 713h1v4h-1zM879 708h1v5h-1zM880 704h1v4h-1zM881 701h1v3h-1zM882 701h2v1h-2zM884 700h2v1h-2zM885 699h1v1h-1zM886 695h1v4h-1zM887 691h1v4h-1zM888 687h1v4h-1zM889 685h1v4h-1zM890 689h1v6h-1zM891 695h1v6h-1zM892 701h1v6h-1zM893 707h1v3h-1zM894 708h2v1h-2zM896 707h1v1h-1zM897 706h3v1h-3zM900 707h3v1h-3zM903 706h2v1h-2zM905 705h5v1h-5zM909 706h1v2h-1zM910 708h1v5h-1zM911 713h1v5h-1zM912 718h1v5h-1zM913 723h1v3h-1zM914 724h1v1h-1zM915 722h1v2h-1zM916 721h1v1h-1zM917 720h3v1h-3zM920 721h6v1h-6zM926 720h1v1h-1zM927 719h1v1h-1zM928 718h1v1h-1zM929 717h6v1h-6zM935 718h2v1h-2zM937 719h1v1h-1zM938 718h1v1h-1zM939 717h1v1h-1zM940 716h1v1h-1zM941 715h1v1h-1zM942 713h1v2h-1zM943 712h1v1h-1zM944 710h1v2h-1zM945 709h1v1h-1zM946 708h1v1h-1zM947 707h1v1h-1zM948 706h1v1h-1zM949 705h9v1h-9zM957 706h1v1h-1zM958 707h1v2h-1zM959 709h1v2h-1zM960 711h1v2h-1zM961 713h1v1h-1zM962 712h2v1h-2zM964 711h1v1h-1zM965 710h1v1h-1zM966 709h1v1h-1zM967 708h1v1h-1zM968 707h1v1h-1zM969 706h1v1h-1zM970 707h1v2h-1zM971 709h1v1h-1zM972 710h1v2h-1zM973 712h1v2h-1zM974 714h1v2h-1zM975 716h1v2h-1zM976 718h1v2h-1zM977 720h3v1h-3zM980 721h2v1h-2zM981 722h1v1h-1zM982 723h1v2h-1zM983 725h1v2h-1zM984 727h1v2h-1zM985 729h3v1h-3zM985 730h1v1h-1zM988 728h1v1h-1zM989 727h1v1h-1zM990 728h2v1h-2zM992 729h1v1h-1zM993 730h1v1h-1zM994 731h1v1h-1zM995 732h1v1h-1zM996 733h1v1h-1zM997 734h1v1h-1zM998 735h1v2h-1zM999 737h1v1h-1zM1000 738h1v2h-1zM1001 740h1v1h-1zM1002 741h1v1h-1zM1003 742h1v1h-1zM1004 743h1v1h-1zM1005 744h1v1h-1zM1006 743h1v1h-1zM1007 741h1v2h-1zM1008 740h1v1h-1zM1009 739h1v1h-1zM1010 738h1v1h-1zM1011 736h1v2h-1zM1012 735h1v1h-1zM1013 734h3v1h-3zM1016 733h2v1h-2zM1018 732h1v1h-1zM1019 731h1v1h-1zM1020 730h1v1h-1zM1021 729h1v1h-1zM1022 728h2v1h-2zM1024 727h1v1h-1zM1025 726h1v1h-1zM1026 727h2v1h-2zM1028 728h1v1h-1zM1029 729h3v1h-3zM1032 730h2v1h-2zM1034 728h1v2h-1zM1035 727h1v1h-1zM1036 725h1v2h-1zM1037 724h3v1h-3zM1040 725h2v1h-2zM1042 724h1v1h-1zM1043 722h1v2h-1zM1044 721h1v1h-1zM1045 720h3v1h-3zM1048 721h4v1h-4zM1052 720h4v1h-4zM1056 721h2v1h-2zM1058 722h1v2h-1zM1059 724h1v1h-1zM1060 725h1v2h-1zM1061 727h1v1h-1zM1062 728h1v2h-1zM1063 730h1v2h-1zM1064 732h1v2h-1zM1065 733h1v2h-1zM1066 731h1v2h-1zM1067 729h1v2h-1zM1068 727h1v2h-1zM1069 726h1v1h-1zM1070 724h1v2h-1zM1071 723h1v1h-1zM1072 721h1v2h-1zM1073 720h3v1h-3zM1076 721h2v1h-2zM1077 722h1v2h-1zM1078 724h1v4h-1zM1079 728h1v4h-1zM1080 732h1v4h-1zM1081 736h1v3h-1zM1082 739h1v1h-1zM1083 740h1v2h-1zM1084 742h1v1h-1zM1085 743h2v1h-2zM1087 744h2v1h-2zM1089 745h1v1h-1zM1090 744h1v1h-1zM1091 742h1v2h-1zM1092 741h1v1h-1zM1093 740h1v1h-1zM1094 739h1v1h-1zM1095 737h1v2h-1zM1096 736h1v1h-1zM1097 735h1v1h-1zM1098 736h1v2h-1zM1099 738h1v1h-1zM1100 739h1v2h-1zM1101 741h3v1h-3zM1104 742h4v1h-4zM1108 743h3v1h-3zM1111 742h2v1h-2zM1113 741h1v1h-1zM1114 742h2v1h-2zM1116 743h1v1h-1zM1117 744h1v1h-1zM1118 743h2v1h-2zM1120 742h1v1h-1zM1121 741h1v1h-1zM1122 742h1v2h-1zM1123 744h1v1h-1zM1124 745h1v2h-1zM1125 747h1v1h-1zM1126 746h1v1h-1zM1127 744h1v2h-1zM1128 743h1v1h-1zM1129 742h9v1h-9z"/>
<rect x="1417" y="29" width="2" height="1" fill="#000"/><rect x="1417" y="62" width="2" height="1" fill="#000"/><rect x="1417" y="95" width="2" height="1" fill="#000"/><rect x="1417" y="128" width="2" height="1" fill="#000"/><rect x="1417" y="161" width="2" height="1" fill="#000"/><rect x="1417" y="194" width="2" height="1" fill="#000"/><rect x="1417" y="227" width="2" height="1" fill="#000"/><rect x="1417" y="260" width="2" height="1" fill="#000"/><rect x="1417" y="293" width="2" height="1" fill="#000"/><rect x="1417" y="326" width="2" height="1" fill="#000"/><rect x="1417" y="359" width="2" height="1" fill="#000"/><rect x="1417" y="392" width="2" height="1" fill="#000"/><rect x="1417" y="425" width="2" height="1" fill="#000"/><rect x="1417" y="458" width="2" height="1" fill="#000"/><rect x="1417" y="491" width="2" height="1" fill="#000"/><rect x="1417" y="524" width="2" height="1" fill="#000"/><rect x="1417" y="557" width="2" height="1" fill="#000"/><rect x="1417" y="564" width="1" height="1" fill="#000"/><rect x="1417" y="625" width="1" height="1" fill="#000"/><rect x="1417" y="665" width="1" height="1" fill="#000"/><rect x="1417" y="670" width="1" height="1" fill="#000"/><rect x="1417" y="797" width="1" height="1" fill="#000"/><rect x="1" y="799" width="1" height="3" fill="#000"/><rect x="65" y="799" width="1" height="3" fill="#000"/><rect x="129" y="799" width="1" height="3" fill="#000"/><rect x="193" y="799" width="1" height="3" fill="#000"/><rect x="257" y="799" width="1" height="3" fill="#000"/><rect x="321" y="799" width="1" height="3" fill="#000"/><rect x="385" y="799" width="1" height="3" fill="#000"/><rect x="449" y="799" width="1" height="3" fill="#000"/><rect x="513" y="799" width="1" height="3" fill="#000"/><rect x="577" y="799" width="1" height="3" fill="#000"/><rect x="641" y="799" width="1" height="3" fill="#000"/><rect x="705" y="799" width="1" height="3" fill="#000"/><rect x="769" y="799" width="1" height="3" fill="#000"/><rect x="833" y="799" width="1" height="3" fill="#000"/><rect x="897" y="799" width="1" height="3" fill="#000"/><rect x="961" y="799" width="1" height="3" fill="#000"/><rect x="1025" y="799" width="1" height="3" fill="#000"/><rect x="1089" y="799" width="1" height="3" fill="#000"/></svg>
<div class="t ax" style="left:1422px;top:24px;font-size:10px;line-height:12px;height:12px;color:#000;">7.21290</div><div class="t ax" style="left:1422px;top:57px;font-size:10px;line-height:12px;height:12px;color:#000;">7.17890</div><div class="t ax" style="left:1422px;top:90px;font-size:10px;line-height:12px;height:12px;color:#000;">7.14390</div><div class="t ax" style="left:1422px;top:123px;font-size:10px;line-height:12px;height:12px;color:#000;">7.10890</div><div class="t ax" style="left:1422px;top:156px;font-size:10px;line-height:12px;height:12px;color:#000;">7.07490</div><div class="t ax" style="left:1422px;top:189px;font-size:10px;line-height:12px;height:12px;color:#000;">7.03990</div><div class="t ax" style="left:1422px;top:222px;font-size:10px;line-height:12px;height:12px;color:#000;">7.00490</div><div class="t ax" style="left:1422px;top:255px;font-size:10px;line-height:12px;height:12px;color:#000;">6.97090</div><div class="t ax" style="left:1422px;top:288px;font-size:10px;line-height:12px;height:12px;color:#000;">6.93590</div><div class="t ax" style="left:1422px;top:321px;font-size:10px;line-height:12px;height:12px;color:#000;">6.90090</div><div class="t ax" style="left:1422px;top:354px;font-size:10px;line-height:12px;height:12px;color:#000;">6.86690</div><div class="t ax" style="left:1422px;top:387px;font-size:10px;line-height:12px;height:12px;color:#000;">6.83190</div><div class="t ax" style="left:1422px;top:420px;font-size:10px;line-height:12px;height:12px;color:#000;">6.79690</div><div class="t ax" style="left:1422px;top:453px;font-size:10px;line-height:12px;height:12px;color:#000;">6.76290</div><div class="t ax" style="left:1422px;top:486px;font-size:10px;line-height:12px;height:12px;color:#000;">6.72790</div><div class="t ax" style="left:1422px;top:519px;font-size:10px;line-height:12px;height:12px;color:#000;">6.69290</div><div class="t ax" style="left:1422px;top:552px;font-size:10px;line-height:12px;height:12px;color:#000;">6.65890</div><div class="t ax" style="left:1420px;top:564px;font-size:10px;line-height:12px;height:12px;color:#000;">0.060687</div><div class="t ax" style="left:1420px;top:620px;font-size:10px;line-height:12px;height:12px;color:#000;">0.00</div><div class="t ax" style="left:1420px;top:655px;font-size:10px;line-height:12px;height:12px;color:#000;">-0.040432</div><div class="t ax" style="left:1420px;top:670px;font-size:10px;line-height:12px;height:12px;color:#000;">100</div><div class="t ax" style="left:1420px;top:703px;font-size:10px;line-height:12px;height:12px;color:#000;">70</div><div class="t ax" style="left:1420px;top:754px;font-size:10px;line-height:12px;height:12px;color:#000;">30</div><div class="t ax" style="left:1420px;top:786px;font-size:10px;line-height:12px;height:12px;color:#000;">0</div><div style="position:absolute;left:1418px;top:35px;width:41px;height:11px;background:#ff0000"></div><div class="t ax" style="left:1422px;top:35px;font-size:10px;line-height:12px;height:12px;color:#fff;">7.20009</div><div style="position:absolute;left:1418px;top:130px;width:41px;height:11px;background:#ff0000"></div><div class="t ax" style="left:1422px;top:130px;font-size:10px;line-height:12px;height:12px;color:#fff;">7.10029</div><div style="position:absolute;left:1418px;top:166px;width:41px;height:11px;background:#000"></div><div class="t ax" style="left:1422px;top:166px;font-size:10px;line-height:12px;height:12px;color:#fff;">7.06389</div><div style="position:absolute;left:1418px;top:225px;width:41px;height:11px;background:#00ff00"></div><div class="t ax" style="left:1422px;top:225px;font-size:10px;line-height:12px;height:12px;color:#fff;">7.00048</div><div style="position:absolute;left:1418px;top:320px;width:41px;height:11px;background:#0000ff"></div><div class="t ax" style="left:1422px;top:320px;font-size:10px;line-height:12px;height:12px;color:#fff;">6.90100</div><div style="position:absolute;left:1418px;top:396px;width:41px;height:11px;background:#0000ff"></div><div class="t ax" style="left:1422px;top:396px;font-size:10px;line-height:12px;height:12px;color:#fff;">6.82103</div><div class="t dt" style="left:0px;top:802px;font-size:10px;line-height:12px;height:12px;color:#000;">26 Sep 2018</div><div class="t dt" style="left:64px;top:802px;font-size:10px;line-height:12px;height:12px;color:#000;">18 Oct 2018</div><div class="t dt" style="left:128px;top:802px;font-size:10px;line-height:12px;height:12px;color:#000;">9 Nov 2018</div><div class="t dt" style="left:192px;top:802px;font-size:10px;line-height:12px;height:12px;color:#000;">3 Dec 2018</div><div class="t dt" style="left:256px;top:802px;font-size:10px;line-height:12px;height:12px;color:#000;">25 Dec 2018</div><div class="t dt" style="left:320px;top:802px;font-size:10px;line-height:12px;height:12px;color:#000;">16 Jan 2019</div><div class="t dt" style="left:384px;top:802px;font-size:10px;line-height:12px;height:12px;color:#000;">7 Feb 2019</div><div class="t dt" style="left:448px;top:802px;font-size:10px;line-height:12px;height:12px;color:#000;">1 Mar 2019</div><div class="t dt" style="left:512px;top:802px;font-size:10px;line-height:12px;height:12px;color:#000;">25 Mar 2019</div><div class="t dt" style="left:576px;top:802px;font-size:10px;line-height:12px;height:12px;color:#000;">16 Apr 2019</div><div class="t dt" style="left:640px;top:802px;font-size:10px;line-height:12px;height:12px;color:#000;">9 May 2019</div><div class="t dt" style="left:704px;top:802px;font-size:10px;line-height:12px;height:12px;color:#000;">31 May 2019</div><div class="t dt" style="left:768px;top:802px;font-size:10px;line-height:12px;height:12px;color:#000;">24 Jun 2019</div><div class="t dt" style="left:832px;top:802px;font-size:10px;line-height:12px;height:12px;color:#000;">16 Jul 2019</div><div class="t dt" style="left:896px;top:802px;font-size:10px;line-height:12px;height:12px;color:#000;">7 Aug 2019</div><div class="t dt" style="left:960px;top:802px;font-size:10px;line-height:12px;height:12px;color:#000;">29 Aug 2019</div><div class="t dt" style="left:1024px;top:802px;font-size:10px;line-height:12px;height:12px;color:#000;">20 Sep 2019</div><div class="t dt" style="left:1088px;top:802px;font-size:10px;line-height:12px;height:12px;color:#000;">14 Oct 2019</div><div class="t ttl" style="left:16px;top:23px;font-size:10px;line-height:12px;height:12px;color:#000;transform:scaleX(0.97) rotate(0.03deg);">USDCNH-,Daily</div><div class="t ttl" style="left:90.5px;top:23px;font-size:10px;line-height:12px;height:12px;color:#000;transform:scaleX(0.925) rotate(0.03deg);">7.06383 7.06812 7.06042 7.06389</div><div style="position:absolute;left:4px;top:26px;width:0;height:0;border-left:4px solid transparent;border-right:4px solid transparent;border-bottom:5px solid #000"></div><div class="t ttl" style="left:4.5px;top:566px;font-size:10px;line-height:12px;height:12px;color:#000;transform:scaleX(0.928) rotate(0.03deg);">MACD(12,26,9) -0.012437 -0.009975</div><div class="t ttl" style="left:4.5px;top:672px;font-size:10px;line-height:12px;height:12px;color:#000;transform:scaleX(0.914) rotate(0.03deg);">RSI(14) 43.3357</div>
<div style="position:absolute;left:0;top:0;width:1460px;height:15px;background:#f0f0f0"></div>
<div style="position:absolute;left:0;top:15px;width:1460px;height:1px;background:#fafafa"></div>
<div style="position:absolute;left:0;top:16px;width:1460px;height:1px;background:#a0a0a0"></div>
<div style="position:absolute;left:0;top:17px;width:1460px;height:1px;background:#696969"></div>
<div style="position:absolute;left:27px;top:0;width:25px;height:14px;background:#f8f8f8"></div>
<div style="position:absolute;left:26px;top:0;width:1px;height:14px;background:#a0a0a0"></div>
<div style="position:absolute;left:109px;top:0;width:1px;height:15px;background:#a0a0a0"></div>
<div style="position:absolute;left:110px;top:0;width:1px;height:15px;background:#fff"></div>
<div class="t tb" style="left:3px;top:-1px;font-size:10px;line-height:12px;height:12px;color:#4a4a4a;">H4</div><div class="t tb" style="left:33px;top:-1px;font-size:10px;line-height:12px;height:12px;color:#4a4a4a;">D1</div><div class="t tb" style="left:60px;top:-1px;font-size:10px;line-height:12px;height:12px;color:#4a4a4a;">W1</div><div class="t tb" style="left:87px;top:-1px;font-size:10px;line-height:12px;height:12px;color:#4a4a4a;">MN</div>
<div style="position:absolute;left:0;top:819px;width:1460px;height:1px;background:#e6e6e6"></div>
<div style="position:absolute;left:0;top:821px;width:1460px;height:1px;background:#000"></div>
<div style="position:absolute;left:0;top:822px;width:1460px;height:18px;background:#f0f0f0"></div>
<div style="position:absolute;left:0;top:840px;width:1460px;height:2px;background:#f6f6f6"></div>
<div style="position:absolute;left:434px;top:821px;width:112px;height:19px;background:#fff;border:1px solid #000;border-top:none;box-sizing:border-box"></div><div class="t tab" style="left:13px;top:825px;font-size:12px;line-height:14px;height:14px;color:#6a6a6a;letter-spacing:0px;">EURUSD-,Daily</div><div class="t tab" style="left:120px;top:825px;font-size:12px;line-height:14px;height:14px;color:#6a6a6a;letter-spacing:0.17px;">AUDUSD-,Daily</div><div class="t tab" style="left:230px;top:825px;font-size:12px;line-height:14px;height:14px;color:#6a6a6a;letter-spacing:0px;">USDCHF-,Daily</div><div class="t tab" style="left:337px;top:825px;font-size:12px;line-height:14px;height:14px;color:#6a6a6a;letter-spacing:0.07px;">USDCAD-,Daily</div><div class="t tab" style="left:446px;top:825px;font-size:12.4px;line-height:14px;height:14px;color:#000;letter-spacing:0px;">USDCNH-,Daily</div><div class="t tab" style="left:557px;top:825px;font-size:12px;line-height:14px;height:14px;color:#6a6a6a;letter-spacing:0.03px;">EURCHF-,Weekly</div><div class="t tab" style="left:678px;top:825px;font-size:12px;line-height:14px;height:14px;color:#6a6a6a;letter-spacing:0.27px;">XAUUSD-,Weekly</div><div class="t tab" style="left:801px;top:825px;font-size:12px;line-height:14px;height:14px;color:#6a6a6a;letter-spacing:-0.1px;">GBPUSD-,H1</div><div class="t tab" style="left:897px;top:825px;font-size:12px;line-height:14px;height:14px;color:#6a6a6a;letter-spacing:0.33px;">UKOil-,H1</div><div class="t tab" style="left:976px;top:825px;font-size:12px;line-height:14px;height:14px;color:#6a6a6a;letter-spacing:0.26px;">USDX-,Weekly</div><div class="t tab" style="left:1080px;top:825px;font-size:12px;line-height:14px;height:14px;color:#6a6a6a;letter-spacing:-0.2px;">EURCHF-,H1</div><div class="t tab" style="left:1174px;top:825px;font-size:12px;line-height:14px;height:14px;color:#6a6a6a;letter-spacing:0.22px;">USOil-,H1</div><div style="position:absolute;left:110px;top:824px;width:1px;height:14px;background:#555"></div><div style="position:absolute;left:218px;top:824px;width:1px;height:14px;background:#555"></div><div style="position:absolute;left:325px;top:824px;width:1px;height:14px;background:#555"></div><div style="position:absolute;left:667px;top:824px;width:1px;height:14px;background:#555"></div><div style="position:absolute;left:790px;top:824px;width:1px;height:14px;background:#555"></div><div style="position:absolute;left:886px;top:824px;width:1px;height:14px;background:#555"></div><div style="position:absolute;left:966px;top:824px;width:1px;height:14px;background:#555"></div><div style="position:absolute;left:1070px;top:824px;width:1px;height:14px;background:#555"></div><div style="position:absolute;left:1162px;top:824px;width:1px;height:14px;background:#555"></div><div style="position:absolute;left:1242px;top:824px;width:1px;height:14px;background:#555"></div><div style="position:absolute;left:1432px;top:827px;width:0;height:0;border-top:3.5px solid transparent;border-bottom:3.5px solid transparent;border-right:3.5px solid #8c8c8c"></div><div style="position:absolute;left:1451px;top:827px;width:0;height:0;border-top:3.5px solid transparent;border-bottom:3.5px solid transparent;border-left:3.5px solid #8c8c8c"></div>
<div style="position:absolute;left:2px;top:34px;width:223px;height:72px;background:#fff"></div>
<div style="position:absolute;left:4px;top:40px;width:52px;height:25px;background:linear-gradient(#5252fc,#3a3ae6)"></div>
<div style="position:absolute;left:4px;top:64px;width:109px;height:40px;background:linear-gradient(#3434e0,#0000ac)"></div>
<div style="position:absolute;left:171px;top:40px;width:52px;height:25px;background:linear-gradient(#5252fc,#3a3ae6)"></div>
<div style="position:absolute;left:115px;top:64px;width:108px;height:40px;background:linear-gradient(#3434e0,#0000ac)"></div>
<div style="position:absolute;left:8px;top:63px;width:44px;height:1px;background:#1c1cc0"></div>
<div style="position:absolute;left:8px;top:64px;width:44px;height:1px;background:#8a8af8"></div>
<div style="position:absolute;left:175px;top:63px;width:44px;height:1px;background:#1c1cc0"></div>
<div style="position:absolute;left:175px;top:64px;width:44px;height:1px;background:#8a8af8"></div>
<div style="position:absolute;left:58px;top:40px;width:111px;height:22px;background:#fff;border:1px solid #a8a8a8;box-sizing:border-box"></div>
<div style="position:absolute;left:59px;top:41px;width:20px;height:20px;background:#f4f4f4;border-right:1px solid #a8a8a8"></div><div style="position:absolute;left:60px;top:42px;width:18px;height:18px;background:linear-gradient(#ececec 0%,#e4e4e4 45%,#d2d2d2 50%,#dcdcdc 100%)"></div>
<div style="position:absolute;left:147px;top:41px;width:20px;height:20px;background:#f4f4f4;border-left:1px solid #a8a8a8"></div><div style="position:absolute;left:149px;top:42px;width:18px;height:18px;background:linear-gradient(#ececec 0%,#e4e4e4 45%,#d2d2d2 50%,#dcdcdc 100%)"></div>
<div style="position:absolute;left:65.5px;top:49px;width:0;height:0;border-left:3px solid transparent;border-right:3px solid transparent;border-top:3.5px solid #4a64c8"></div>
<div style="position:absolute;left:154.5px;top:48.5px;width:0;height:0;border-left:3px solid transparent;border-right:3px solid transparent;border-bottom:3.5px solid #4a64c8"></div>
<div class="t pn" style="left:16.5px;top:45px;font-size:12px;line-height:14px;height:14px;color:#eef;transform-origin:0 0;transform:scaleX(0.88);">SELL</div><div class="t pn" style="left:184.5px;top:45px;font-size:12px;line-height:14px;height:14px;color:#eef;transform-origin:0 0;transform:scaleX(0.88);">BUY</div><div class="t pn" style="left:120.5px;top:44px;font-size:12px;line-height:14px;height:14px;color:#000;-webkit-text-stroke:0.2px #000;">1.00</div><div class="t pn" style="left:24px;top:84px;font-size:12px;line-height:14px;height:14px;color:#fff;font-weight:bold;">7.06</div><div class="t pn" style="left:134px;top:84px;font-size:12px;line-height:14px;height:14px;color:#fff;font-weight:bold;">7.06</div><svg width="223" height="72" viewBox="0 0 223 72" style="position:absolute;left:2px;top:34px">
<defs><linearGradient id="pg" gradientUnits="userSpaceOnUse" x1="0" y1="30" x2="0" y2="70"><stop offset="0" stop-color="#3434e0"/><stop offset="1" stop-color="#0000ac"/></linearGradient></defs>
<g font-family="Liberation Sans, sans-serif" font-size="35.5" fill="#fff" stroke="url(#pg)" stroke-width="0.9">
<text transform="translate(50.2,61.5) scale(0.89,1)">38</text>
<text transform="translate(161,61.5) scale(0.89,1)">62</text>
</g></svg><div class="t pn" style="left:91px;top:68px;font-size:12px;line-height:14px;height:14px;color:#fff;font-weight:bold;">9</div><div class="t pn" style="left:202px;top:68px;font-size:12px;line-height:14px;height:14px;color:#fff;font-weight:bold;">7</div>
</body></html>
